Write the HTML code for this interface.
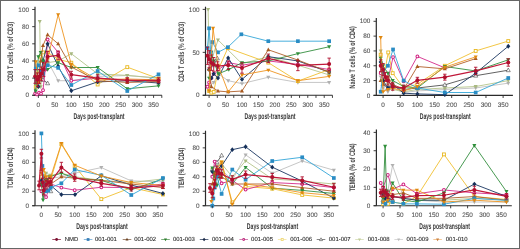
<!DOCTYPE html>
<html><head><meta charset="utf-8"><style>
html,body{margin:0;padding:0;background:#fff;}
#w{width:520px;height:249px;}
svg{display:block;font-family:"Liberation Sans",sans-serif;text-rendering:geometricPrecision;}
text{filter:grayscale(1);}
</style></head><body><div id="w">
<svg width="520" height="249" viewBox="0 0 520 249">
<rect x="0" y="0" width="520" height="249" fill="#fff"/>
<path d="M35 6.8V95.3" stroke="#2b2b2b" stroke-width="1.2" fill="none"/>
<path d="M32.2 95.3H161.9" stroke="#2b2b2b" stroke-width="1.1" fill="none"/>
<g><polyline points="38.40,82.43 43.01,78.14 47.61,60.98 58.15,80.71 71.31,80.71 97.64,76.42 127.26,75.57 158.52,78.14" fill="none" stroke="#c0c0c0" stroke-width="0.9" stroke-linejoin="round"/><path d="M38.40 84.65L40.44 80.95L36.36 80.95Z" fill="#b0b0b0"/><path d="M43.01 80.36L45.04 76.66L40.97 76.66Z" fill="#b0b0b0"/><path d="M47.61 63.20L49.65 59.50L45.58 59.50Z" fill="#b0b0b0"/><path d="M58.15 82.93L60.18 79.23L56.11 79.23Z" fill="#b0b0b0"/><path d="M71.31 82.93L73.34 79.23L69.28 79.23Z" fill="#b0b0b0"/><path d="M97.64 78.64L99.67 74.94L95.60 74.94Z" fill="#b0b0b0"/><path d="M127.26 77.79L129.29 74.09L125.22 74.09Z" fill="#b0b0b0"/><path d="M158.52 80.36L160.56 76.66L156.49 76.66Z" fill="#b0b0b0"/><polyline points="39.72,21.51 40.70,86.72 43.01,60.98 47.61,62.70 58.15,60.98 71.31,53.69 97.64,73.85 127.26,75.39 158.52,78.14" fill="none" stroke="#b4c48a" stroke-width="0.9" stroke-linejoin="round"/><path d="M39.72 23.73L41.75 20.03L37.68 20.03Z" fill="#a8b880"/><path d="M40.70 88.94L42.74 85.24L38.67 85.24Z" fill="#a8b880"/><path d="M43.01 63.20L45.04 59.50L40.97 59.50Z" fill="#a8b880"/><path d="M47.61 64.92L49.65 61.22L45.58 61.22Z" fill="#a8b880"/><path d="M58.15 63.20L60.18 59.50L56.11 59.50Z" fill="#a8b880"/><path d="M71.31 55.91L73.34 52.21L69.28 52.21Z" fill="#a8b880"/><path d="M97.64 76.07L99.67 72.37L95.60 72.37Z" fill="#a8b880"/><path d="M127.26 77.61L129.29 73.91L125.22 73.91Z" fill="#a8b880"/><path d="M158.52 80.36L160.56 76.66L156.49 76.66Z" fill="#a8b880"/><polyline points="38.40,78.14 43.01,79.86 47.61,83.29" fill="none" stroke="#505050" stroke-width="0.9" stroke-linejoin="round"/><path d="M38.40 75.92L40.44 79.62L36.36 79.62Z" fill="#fff" stroke="#444444" stroke-width="0.6"/><path d="M43.01 77.64L45.04 81.34L40.97 81.34Z" fill="#fff" stroke="#444444" stroke-width="0.6"/><path d="M47.61 81.07L49.65 84.77L45.58 84.77Z" fill="#fff" stroke="#444444" stroke-width="0.6"/><polyline points="35.77,86.72 38.40,73.85 40.70,56.69 43.01,52.40 47.61,52.40 58.15,59.26 71.31,62.70 97.64,84.49 127.26,67.16 158.52,78.65" fill="none" stroke="#f0c030" stroke-width="0.9" stroke-linejoin="round"/><rect x="34.32" y="85.27" width="2.90" height="2.90" fill="#fff" stroke="#e8b820" stroke-width="0.9"/><rect x="36.95" y="72.40" width="2.90" height="2.90" fill="#fff" stroke="#e8b820" stroke-width="0.9"/><rect x="39.25" y="55.24" width="2.90" height="2.90" fill="#fff" stroke="#e8b820" stroke-width="0.9"/><rect x="41.56" y="50.95" width="2.90" height="2.90" fill="#fff" stroke="#e8b820" stroke-width="0.9"/><rect x="46.16" y="50.95" width="2.90" height="2.90" fill="#fff" stroke="#e8b820" stroke-width="0.9"/><rect x="56.70" y="57.81" width="2.90" height="2.90" fill="#fff" stroke="#e8b820" stroke-width="0.9"/><rect x="69.86" y="61.25" width="2.90" height="2.90" fill="#fff" stroke="#e8b820" stroke-width="0.9"/><rect x="96.19" y="83.04" width="2.90" height="2.90" fill="#fff" stroke="#e8b820" stroke-width="0.9"/><rect x="125.81" y="65.71" width="2.90" height="2.90" fill="#fff" stroke="#e8b820" stroke-width="0.9"/><rect x="157.07" y="77.20" width="2.90" height="2.90" fill="#fff" stroke="#e8b820" stroke-width="0.9"/><polyline points="35.11,93.58 37.08,94.44 39.06,92.73 41.03,93.58 43.01,90.15 45.31,69.56 47.61,39.53 58.15,52.40 71.31,80.71 97.64,78.14 127.26,79.86 158.52,81.57" fill="none" stroke="#d42a8a" stroke-width="0.9" stroke-linejoin="round"/><circle cx="35.11" cy="93.58" r="1.40" fill="#fff" stroke="#d02080" stroke-width="1.05"/><circle cx="37.08" cy="94.44" r="1.40" fill="#fff" stroke="#d02080" stroke-width="1.05"/><circle cx="39.06" cy="92.73" r="1.40" fill="#fff" stroke="#d02080" stroke-width="1.05"/><circle cx="41.03" cy="93.58" r="1.40" fill="#fff" stroke="#d02080" stroke-width="1.05"/><circle cx="43.01" cy="90.15" r="1.40" fill="#fff" stroke="#d02080" stroke-width="1.05"/><circle cx="45.31" cy="69.56" r="1.40" fill="#fff" stroke="#d02080" stroke-width="1.05"/><circle cx="47.61" cy="39.53" r="1.40" fill="#fff" stroke="#d02080" stroke-width="1.05"/><circle cx="58.15" cy="52.40" r="1.40" fill="#fff" stroke="#d02080" stroke-width="1.05"/><circle cx="71.31" cy="80.71" r="1.40" fill="#fff" stroke="#d02080" stroke-width="1.05"/><circle cx="97.64" cy="78.14" r="1.40" fill="#fff" stroke="#d02080" stroke-width="1.05"/><circle cx="127.26" cy="79.86" r="1.40" fill="#fff" stroke="#d02080" stroke-width="1.05"/><circle cx="158.52" cy="81.57" r="1.40" fill="#fff" stroke="#d02080" stroke-width="1.05"/><polyline points="38.40,86.72 40.70,73.85 43.01,60.98 47.61,43.82 58.15,66.13 71.31,90.75 97.64,81.92 127.26,80.71 158.52,83.03" fill="none" stroke="#1a3560" stroke-width="0.9" stroke-linejoin="round"/><path d="M38.40 84.31L40.44 86.72L38.40 89.12L36.36 86.72Z" fill="#15305a"/><path d="M40.70 71.44L42.74 73.85L40.70 76.25L38.67 73.85Z" fill="#15305a"/><path d="M43.01 58.57L45.04 60.98L43.01 63.38L40.97 60.98Z" fill="#15305a"/><path d="M47.61 41.41L49.65 43.82L47.61 46.23L45.58 43.82Z" fill="#15305a"/><path d="M58.15 63.72L60.18 66.13L58.15 68.53L56.11 66.13Z" fill="#15305a"/><path d="M71.31 88.35L73.34 90.75L71.31 93.16L69.28 90.75Z" fill="#15305a"/><path d="M97.64 79.51L99.67 81.92L97.64 84.32L95.60 81.92Z" fill="#15305a"/><path d="M127.26 78.31L129.29 80.71L127.26 83.12L125.22 80.71Z" fill="#15305a"/><path d="M158.52 80.63L160.56 83.03L158.52 85.44L156.49 83.03Z" fill="#15305a"/><polyline points="35.77,91.01 38.40,56.69 40.70,52.40 43.01,60.98 47.61,69.56 58.15,62.70 71.31,67.50 97.64,67.50 127.26,88.78 158.52,85.86" fill="none" stroke="#338f3e" stroke-width="0.9" stroke-linejoin="round"/><path d="M35.77 93.23L37.80 89.53L33.73 89.53Z" fill="#2f8f3a"/><path d="M38.40 58.91L40.44 55.21L36.36 55.21Z" fill="#2f8f3a"/><path d="M40.70 54.62L42.74 50.92L38.67 50.92Z" fill="#2f8f3a"/><path d="M43.01 63.20L45.04 59.50L40.97 59.50Z" fill="#2f8f3a"/><path d="M47.61 71.78L49.65 68.08L45.58 68.08Z" fill="#2f8f3a"/><path d="M58.15 64.92L60.18 61.22L56.11 61.22Z" fill="#2f8f3a"/><path d="M71.31 69.72L73.34 66.02L69.28 66.02Z" fill="#2f8f3a"/><path d="M97.64 69.72L99.67 66.02L95.60 66.02Z" fill="#2f8f3a"/><path d="M127.26 91.00L129.29 87.30L125.22 87.30Z" fill="#2f8f3a"/><path d="M158.52 88.08L160.56 84.38L156.49 84.38Z" fill="#2f8f3a"/><polyline points="38.40,82.43 40.70,60.98 43.01,45.54 47.61,34.81 58.15,43.82 71.31,66.99 97.64,80.71 127.26,82.43 158.52,81.57" fill="none" stroke="#b0602a" stroke-width="0.9" stroke-linejoin="round"/><path d="M38.40 80.21L40.44 83.91L36.36 83.91Z" fill="#a85a20"/><path d="M40.70 58.76L42.74 62.46L38.67 62.46Z" fill="#a85a20"/><path d="M43.01 43.32L45.04 47.02L40.97 47.02Z" fill="#a85a20"/><path d="M47.61 32.59L49.65 36.29L45.58 36.29Z" fill="#a85a20"/><path d="M58.15 41.60L60.18 45.30L56.11 45.30Z" fill="#a85a20"/><path d="M71.31 64.77L73.34 68.47L69.28 68.47Z" fill="#a85a20"/><path d="M97.64 78.49L99.67 82.19L95.60 82.19Z" fill="#a85a20"/><path d="M127.26 80.21L129.29 83.91L125.22 83.91Z" fill="#a85a20"/><path d="M158.52 79.35L160.56 83.05L156.49 83.05Z" fill="#a85a20"/><polyline points="35.77,68.70 38.40,65.27 40.70,71.28 43.01,73.85 47.61,65.27 58.15,67.84 71.31,85.00 97.64,71.02 127.26,91.01 158.52,74.36" fill="none" stroke="#33a6d8" stroke-width="0.9" stroke-linejoin="round"/><rect x="33.92" y="66.85" width="3.70" height="3.70" fill="#2a8cc4"/><rect x="36.55" y="63.42" width="3.70" height="3.70" fill="#2a8cc4"/><rect x="38.85" y="69.43" width="3.70" height="3.70" fill="#2a8cc4"/><rect x="41.16" y="72.00" width="3.70" height="3.70" fill="#2a8cc4"/><rect x="45.76" y="63.42" width="3.70" height="3.70" fill="#2a8cc4"/><rect x="56.30" y="65.99" width="3.70" height="3.70" fill="#2a8cc4"/><rect x="69.46" y="83.15" width="3.70" height="3.70" fill="#2a8cc4"/><rect x="95.79" y="69.17" width="3.70" height="3.70" fill="#2a8cc4"/><rect x="125.41" y="89.16" width="3.70" height="3.70" fill="#2a8cc4"/><rect x="156.67" y="72.51" width="3.70" height="3.70" fill="#2a8cc4"/><polyline points="35.77,61.84 38.40,82.43 40.70,78.14 43.01,69.56 47.61,59.26 58.15,14.65 71.31,64.41 97.64,79.86 127.26,79.00 158.52,79.86" fill="none" stroke="#ee9420" stroke-width="0.9" stroke-linejoin="round"/><path d="M35.77 64.06L37.80 60.36L33.73 60.36Z" fill="#e08810"/><path d="M38.40 84.65L40.44 80.95L36.36 80.95Z" fill="#e08810"/><path d="M40.70 80.36L42.74 76.66L38.67 76.66Z" fill="#e08810"/><path d="M43.01 71.78L45.04 68.08L40.97 68.08Z" fill="#e08810"/><path d="M47.61 61.48L49.65 57.78L45.58 57.78Z" fill="#e08810"/><path d="M58.15 16.87L60.18 13.17L56.11 13.17Z" fill="#e08810"/><path d="M71.31 66.63L73.34 62.93L69.28 62.93Z" fill="#e08810"/><path d="M97.64 82.08L99.67 78.38L95.60 78.38Z" fill="#e08810"/><path d="M127.26 81.22L129.29 77.52L125.22 77.52Z" fill="#e08810"/><path d="M158.52 82.08L160.56 78.38L156.49 78.38Z" fill="#e08810"/><polyline points="35.11,76.42 37.41,79.86 39.39,76.42 41.36,73.85 43.67,69.56 47.61,56.69 58.15,55.40 71.31,74.71 97.64,78.14 127.26,80.28 158.52,80.28" fill="none" stroke="#c0183a" stroke-width="1.25" stroke-linejoin="round"/><path d="M35.11 69.56V83.29M33.41 69.56H36.81M33.41 83.29H36.81" stroke="#b0102e" stroke-width="0.9" fill="none"/><circle cx="35.11" cy="76.42" r="2.00" fill="#b0102e"/><path d="M37.41 72.99V86.72M35.71 72.99H39.11M35.71 86.72H39.11" stroke="#b0102e" stroke-width="0.9" fill="none"/><circle cx="37.41" cy="79.86" r="2.00" fill="#b0102e"/><path d="M39.39 69.56V83.29M37.69 69.56H41.09M37.69 83.29H41.09" stroke="#b0102e" stroke-width="0.9" fill="none"/><circle cx="39.39" cy="76.42" r="2.00" fill="#b0102e"/><path d="M41.36 66.99V80.71M39.66 66.99H43.06M39.66 80.71H43.06" stroke="#b0102e" stroke-width="0.9" fill="none"/><circle cx="41.36" cy="73.85" r="2.00" fill="#b0102e"/><path d="M43.67 62.70V76.42M41.97 62.70H45.37M41.97 76.42H45.37" stroke="#b0102e" stroke-width="0.9" fill="none"/><circle cx="43.67" cy="69.56" r="2.00" fill="#b0102e"/><path d="M47.61 51.54V61.84M45.91 51.54H49.31M45.91 61.84H49.31" stroke="#b0102e" stroke-width="0.9" fill="none"/><circle cx="47.61" cy="56.69" r="2.00" fill="#b0102e"/><path d="M58.15 51.11V59.69M56.45 51.11H59.85M56.45 59.69H59.85" stroke="#b0102e" stroke-width="0.9" fill="none"/><circle cx="58.15" cy="55.40" r="2.00" fill="#b0102e"/><path d="M71.31 71.28V78.14M69.61 71.28H73.01M69.61 78.14H73.01" stroke="#b0102e" stroke-width="0.9" fill="none"/><circle cx="71.31" cy="74.71" r="2.00" fill="#b0102e"/><path d="M97.64 74.71V81.57M95.94 74.71H99.34M95.94 81.57H99.34" stroke="#b0102e" stroke-width="0.9" fill="none"/><circle cx="97.64" cy="78.14" r="2.00" fill="#b0102e"/><path d="M127.26 77.71V82.86M125.56 77.71H128.96M125.56 82.86H128.96" stroke="#b0102e" stroke-width="0.9" fill="none"/><circle cx="127.26" cy="80.28" r="2.00" fill="#b0102e"/><path d="M158.52 77.71V82.86M156.82 77.71H160.22M156.82 82.86H160.22" stroke="#b0102e" stroke-width="0.9" fill="none"/><circle cx="158.52" cy="80.28" r="2.00" fill="#b0102e"/></g>
<path d="M32.2 95.30H35" stroke="#2b2b2b" stroke-width="0.9"/>
<text x="29" y="97.45" text-anchor="end" font-size="6.4" fill="#555555" stroke="#555555" stroke-width="0.1">0</text>
<path d="M32.2 78.14H35" stroke="#2b2b2b" stroke-width="0.9"/>
<text x="29" y="80.29" text-anchor="end" font-size="6.4" fill="#555555" stroke="#555555" stroke-width="0.1">20</text>
<path d="M32.2 60.98H35" stroke="#2b2b2b" stroke-width="0.9"/>
<text x="29" y="63.13" text-anchor="end" font-size="6.4" fill="#555555" stroke="#555555" stroke-width="0.1">40</text>
<path d="M32.2 43.82H35" stroke="#2b2b2b" stroke-width="0.9"/>
<text x="29" y="45.97" text-anchor="end" font-size="6.4" fill="#555555" stroke="#555555" stroke-width="0.1">60</text>
<path d="M32.2 26.66H35" stroke="#2b2b2b" stroke-width="0.9"/>
<text x="29" y="28.81" text-anchor="end" font-size="6.4" fill="#555555" stroke="#555555" stroke-width="0.1">80</text>
<path d="M32.2 9.50H35" stroke="#2b2b2b" stroke-width="0.9"/>
<text x="29" y="11.65" text-anchor="end" font-size="6.4" fill="#555555" stroke="#555555" stroke-width="0.1">100</text>
<path d="M38.40 95.3V97.89999999999999" stroke="#2b2b2b" stroke-width="0.9"/>
<text x="38.40" y="106.95" text-anchor="middle" font-size="6.4" fill="#555555" stroke="#555555" stroke-width="0.1">0</text>
<path d="M46.63 95.3V97.89999999999999" stroke="#2b2b2b" stroke-width="0.9"/>
<path d="M54.86 95.3V97.89999999999999" stroke="#2b2b2b" stroke-width="0.9"/>
<text x="54.86" y="106.95" text-anchor="middle" font-size="6.4" fill="#555555" stroke="#555555" stroke-width="0.1">50</text>
<path d="M63.08 95.3V97.89999999999999" stroke="#2b2b2b" stroke-width="0.9"/>
<path d="M71.31 95.3V97.89999999999999" stroke="#2b2b2b" stroke-width="0.9"/>
<text x="71.31" y="106.95" text-anchor="middle" font-size="6.4" fill="#555555" stroke="#555555" stroke-width="0.1">100</text>
<path d="M79.54 95.3V97.89999999999999" stroke="#2b2b2b" stroke-width="0.9"/>
<path d="M87.77 95.3V97.89999999999999" stroke="#2b2b2b" stroke-width="0.9"/>
<text x="87.77" y="106.95" text-anchor="middle" font-size="6.4" fill="#555555" stroke="#555555" stroke-width="0.1">150</text>
<path d="M95.99 95.3V97.89999999999999" stroke="#2b2b2b" stroke-width="0.9"/>
<path d="M104.22 95.3V97.89999999999999" stroke="#2b2b2b" stroke-width="0.9"/>
<text x="104.22" y="106.95" text-anchor="middle" font-size="6.4" fill="#555555" stroke="#555555" stroke-width="0.1">200</text>
<path d="M112.45 95.3V97.89999999999999" stroke="#2b2b2b" stroke-width="0.9"/>
<path d="M120.68 95.3V97.89999999999999" stroke="#2b2b2b" stroke-width="0.9"/>
<text x="120.68" y="106.95" text-anchor="middle" font-size="6.4" fill="#555555" stroke="#555555" stroke-width="0.1">250</text>
<path d="M128.90 95.3V97.89999999999999" stroke="#2b2b2b" stroke-width="0.9"/>
<path d="M137.13 95.3V97.89999999999999" stroke="#2b2b2b" stroke-width="0.9"/>
<text x="137.13" y="106.95" text-anchor="middle" font-size="6.4" fill="#555555" stroke="#555555" stroke-width="0.1">300</text>
<path d="M145.36 95.3V97.89999999999999" stroke="#2b2b2b" stroke-width="0.9"/>
<path d="M153.59 95.3V97.89999999999999" stroke="#2b2b2b" stroke-width="0.9"/>
<text x="153.59" y="106.95" text-anchor="middle" font-size="6.4" fill="#555555" stroke="#555555" stroke-width="0.1">350</text>
<path d="M161.81 95.3V97.89999999999999" stroke="#2b2b2b" stroke-width="0.9"/>
<text x="99.0" y="118.6" text-anchor="middle" font-size="8.3" font-weight="bold" fill="#383838" textLength="51" lengthAdjust="spacingAndGlyphs">Days post-transplant</text>
<text transform="translate(13.45,51.8) rotate(-90)" x="0" y="0" text-anchor="middle" font-size="8" font-weight="bold" fill="#454545" textLength="59.8" lengthAdjust="spacingAndGlyphs">CD8 T cells (% of CD3)</text>
<path d="M205.5 6.7V95.3" stroke="#2b2b2b" stroke-width="1.2" fill="none"/>
<path d="M202.7 95.3H332.5" stroke="#2b2b2b" stroke-width="1.1" fill="none"/>
<g><polyline points="209.10,86.71 213.70,82.41 218.31,73.82 228.18,80.70 241.99,83.62 268.30,77.26 297.90,82.41 329.15,82.41" fill="none" stroke="#c0c0c0" stroke-width="0.9" stroke-linejoin="round"/><path d="M209.10 88.93L211.13 85.23L207.06 85.23Z" fill="#b0b0b0"/><path d="M213.70 84.63L215.74 80.93L211.67 80.93Z" fill="#b0b0b0"/><path d="M218.31 76.04L220.34 72.34L216.27 72.34Z" fill="#b0b0b0"/><path d="M228.18 82.92L230.21 79.22L226.14 79.22Z" fill="#b0b0b0"/><path d="M241.99 85.84L244.03 82.14L239.96 82.14Z" fill="#b0b0b0"/><path d="M268.30 79.48L270.34 75.78L266.27 75.78Z" fill="#b0b0b0"/><path d="M297.90 84.63L299.94 80.93L295.87 80.93Z" fill="#b0b0b0"/><path d="M329.15 84.63L331.18 80.93L327.11 80.93Z" fill="#b0b0b0"/><polyline points="208.11,9.40 209.10,56.64 211.40,60.94 217.98,39.89 241.99,63.77 268.30,56.64 297.90,65.23 329.15,74.94" fill="none" stroke="#b4c48a" stroke-width="0.9" stroke-linejoin="round"/><path d="M208.11 11.62L210.15 7.92L206.08 7.92Z" fill="#a8b880"/><path d="M209.10 58.86L211.13 55.16L207.06 55.16Z" fill="#a8b880"/><path d="M211.40 63.16L213.44 59.46L209.37 59.46Z" fill="#a8b880"/><path d="M217.98 42.11L220.02 38.41L215.95 38.41Z" fill="#a8b880"/><path d="M241.99 65.99L244.03 62.29L239.96 62.29Z" fill="#a8b880"/><path d="M268.30 58.86L270.34 55.16L266.27 55.16Z" fill="#a8b880"/><path d="M297.90 67.45L299.94 63.76L295.87 63.76Z" fill="#a8b880"/><path d="M329.15 77.16L331.18 73.46L327.11 73.46Z" fill="#a8b880"/><polyline points="209.10,60.94 213.70,65.23 217.32,58.36" fill="none" stroke="#505050" stroke-width="0.9" stroke-linejoin="round"/><path d="M209.10 58.72L211.13 62.42L207.06 62.42Z" fill="#fff" stroke="#444444" stroke-width="0.6"/><path d="M213.70 63.02L215.74 66.72L211.67 66.72Z" fill="#fff" stroke="#444444" stroke-width="0.6"/><path d="M217.32 56.14L219.36 59.84L215.29 59.84Z" fill="#fff" stroke="#444444" stroke-width="0.6"/><polyline points="209.10,91.00 211.40,92.72 213.70,91.86 218.31,69.53 227.85,48.05 268.30,62.66 297.90,81.13 329.15,69.53" fill="none" stroke="#f0c030" stroke-width="0.9" stroke-linejoin="round"/><rect x="207.65" y="89.56" width="2.90" height="2.90" fill="#fff" stroke="#e8b820" stroke-width="0.9"/><rect x="209.95" y="91.27" width="2.90" height="2.90" fill="#fff" stroke="#e8b820" stroke-width="0.9"/><rect x="212.25" y="90.41" width="2.90" height="2.90" fill="#fff" stroke="#e8b820" stroke-width="0.9"/><rect x="216.86" y="68.08" width="2.90" height="2.90" fill="#fff" stroke="#e8b820" stroke-width="0.9"/><rect x="226.40" y="46.60" width="2.90" height="2.90" fill="#fff" stroke="#e8b820" stroke-width="0.9"/><rect x="266.85" y="61.21" width="2.90" height="2.90" fill="#fff" stroke="#e8b820" stroke-width="0.9"/><rect x="296.45" y="79.68" width="2.90" height="2.90" fill="#fff" stroke="#e8b820" stroke-width="0.9"/><rect x="327.70" y="68.08" width="2.90" height="2.90" fill="#fff" stroke="#e8b820" stroke-width="0.9"/><polyline points="207.46,86.71 209.10,82.41 211.40,78.12 213.70,73.82 218.31,69.53 228.83,62.66 241.99,65.23 268.30,60.94 297.90,64.38 329.15,69.53" fill="none" stroke="#d42a8a" stroke-width="0.9" stroke-linejoin="round"/><circle cx="207.46" cy="86.71" r="1.40" fill="#fff" stroke="#d02080" stroke-width="1.05"/><circle cx="209.10" cy="82.41" r="1.40" fill="#fff" stroke="#d02080" stroke-width="1.05"/><circle cx="211.40" cy="78.12" r="1.40" fill="#fff" stroke="#d02080" stroke-width="1.05"/><circle cx="213.70" cy="73.82" r="1.40" fill="#fff" stroke="#d02080" stroke-width="1.05"/><circle cx="218.31" cy="69.53" r="1.40" fill="#fff" stroke="#d02080" stroke-width="1.05"/><circle cx="228.83" cy="62.66" r="1.40" fill="#fff" stroke="#d02080" stroke-width="1.05"/><circle cx="241.99" cy="65.23" r="1.40" fill="#fff" stroke="#d02080" stroke-width="1.05"/><circle cx="268.30" cy="60.94" r="1.40" fill="#fff" stroke="#d02080" stroke-width="1.05"/><circle cx="297.90" cy="64.38" r="1.40" fill="#fff" stroke="#d02080" stroke-width="1.05"/><circle cx="329.15" cy="69.53" r="1.40" fill="#fff" stroke="#d02080" stroke-width="1.05"/><polyline points="209.10,69.53 211.40,78.12 213.70,73.82 217.98,78.12 228.18,57.93 241.99,79.41 268.30,56.64 297.90,60.94 329.15,72.11" fill="none" stroke="#1a3560" stroke-width="0.9" stroke-linejoin="round"/><path d="M209.10 67.12L211.13 69.53L209.10 71.94L207.06 69.53Z" fill="#15305a"/><path d="M211.40 75.72L213.44 78.12L211.40 80.53L209.37 78.12Z" fill="#15305a"/><path d="M213.70 71.42L215.74 73.82L213.70 76.23L211.67 73.82Z" fill="#15305a"/><path d="M217.98 75.72L220.02 78.12L217.98 80.53L215.95 78.12Z" fill="#15305a"/><path d="M228.18 55.53L230.21 57.93L228.18 60.34L226.14 57.93Z" fill="#15305a"/><path d="M241.99 77.00L244.03 79.41L241.99 81.81L239.96 79.41Z" fill="#15305a"/><path d="M268.30 54.24L270.34 56.64L268.30 59.05L266.27 56.64Z" fill="#15305a"/><path d="M297.90 58.53L299.94 60.94L297.90 63.34L295.87 60.94Z" fill="#15305a"/><path d="M329.15 69.70L331.18 72.11L329.15 74.51L327.11 72.11Z" fill="#15305a"/><polyline points="209.10,78.12 211.40,52.35 213.70,60.94 218.31,73.82 228.83,69.53 241.99,62.66 268.30,60.94 297.90,53.64 329.15,46.77" fill="none" stroke="#338f3e" stroke-width="0.9" stroke-linejoin="round"/><path d="M209.10 80.34L211.13 76.64L207.06 76.64Z" fill="#2f8f3a"/><path d="M211.40 54.57L213.44 50.87L209.37 50.87Z" fill="#2f8f3a"/><path d="M213.70 63.16L215.74 59.46L211.67 59.46Z" fill="#2f8f3a"/><path d="M218.31 76.04L220.34 72.34L216.27 72.34Z" fill="#2f8f3a"/><path d="M228.83 71.75L230.87 68.05L226.80 68.05Z" fill="#2f8f3a"/><path d="M241.99 64.88L244.03 61.18L239.96 61.18Z" fill="#2f8f3a"/><path d="M268.30 63.16L270.34 59.46L266.27 59.46Z" fill="#2f8f3a"/><path d="M297.90 55.86L299.94 52.16L295.87 52.16Z" fill="#2f8f3a"/><path d="M329.15 48.99L331.18 45.29L327.11 45.29Z" fill="#2f8f3a"/><polyline points="209.10,69.53 211.40,86.71 217.98,91.00 228.18,91.86 241.99,91.00 268.30,49.77 297.90,60.08 329.15,72.11" fill="none" stroke="#b0602a" stroke-width="0.9" stroke-linejoin="round"/><path d="M209.10 67.31L211.13 71.01L207.06 71.01Z" fill="#a85a20"/><path d="M211.40 84.49L213.44 88.19L209.37 88.19Z" fill="#a85a20"/><path d="M217.98 88.78L220.02 92.48L215.95 92.48Z" fill="#a85a20"/><path d="M228.18 89.64L230.21 93.34L226.14 93.34Z" fill="#a85a20"/><path d="M241.99 88.78L244.03 92.48L239.96 92.48Z" fill="#a85a20"/><path d="M268.30 47.55L270.34 51.25L266.27 51.25Z" fill="#a85a20"/><path d="M297.90 57.86L299.94 61.56L295.87 61.56Z" fill="#a85a20"/><path d="M329.15 69.89L331.18 73.59L327.11 73.59Z" fill="#a85a20"/><polyline points="207.46,48.05 209.10,28.30 210.74,52.35 212.39,42.04 217.98,52.35 227.85,47.20 241.33,34.31 268.30,41.18 297.90,41.18 329.15,41.18" fill="none" stroke="#33a6d8" stroke-width="0.9" stroke-linejoin="round"/><rect x="205.61" y="46.20" width="3.70" height="3.70" fill="#2a8cc4"/><rect x="207.25" y="26.45" width="3.70" height="3.70" fill="#2a8cc4"/><rect x="208.89" y="50.50" width="3.70" height="3.70" fill="#2a8cc4"/><rect x="210.54" y="40.19" width="3.70" height="3.70" fill="#2a8cc4"/><rect x="216.13" y="50.50" width="3.70" height="3.70" fill="#2a8cc4"/><rect x="226.00" y="45.35" width="3.70" height="3.70" fill="#2a8cc4"/><rect x="239.48" y="32.46" width="3.70" height="3.70" fill="#2a8cc4"/><rect x="266.45" y="39.33" width="3.70" height="3.70" fill="#2a8cc4"/><rect x="296.05" y="39.33" width="3.70" height="3.70" fill="#2a8cc4"/><rect x="327.30" y="39.33" width="3.70" height="3.70" fill="#2a8cc4"/><polyline points="209.10,91.00 213.05,28.30 217.98,65.23 228.18,91.86 241.99,74.94 268.30,70.13 297.90,80.70 329.15,76.40" fill="none" stroke="#ee9420" stroke-width="0.9" stroke-linejoin="round"/><path d="M209.10 93.22L211.13 89.52L207.06 89.52Z" fill="#e08810"/><path d="M213.05 30.52L215.08 26.82L211.01 26.82Z" fill="#e08810"/><path d="M217.98 67.45L220.02 63.76L215.95 63.76Z" fill="#e08810"/><path d="M228.18 94.08L230.21 90.38L226.14 90.38Z" fill="#e08810"/><path d="M241.99 77.16L244.03 73.46L239.96 73.46Z" fill="#e08810"/><path d="M268.30 72.35L270.34 68.65L266.27 68.65Z" fill="#e08810"/><path d="M297.90 82.92L299.94 79.22L295.87 79.22Z" fill="#e08810"/><path d="M329.15 78.62L331.18 74.92L327.11 74.92Z" fill="#e08810"/><polyline points="207.46,55.79 209.10,59.22 211.40,62.66 213.70,64.38 217.65,66.09 228.18,65.23 241.99,67.98 268.30,58.36 297.90,65.49 329.15,64.12" fill="none" stroke="#c0183a" stroke-width="1.25" stroke-linejoin="round"/><path d="M207.46 47.20V64.38M205.76 47.20H209.16M205.76 64.38H209.16" stroke="#b0102e" stroke-width="0.9" fill="none"/><circle cx="207.46" cy="55.79" r="2.00" fill="#b0102e"/><path d="M209.10 50.63V67.81M207.40 50.63H210.80M207.40 67.81H210.80" stroke="#b0102e" stroke-width="0.9" fill="none"/><circle cx="209.10" cy="59.22" r="2.00" fill="#b0102e"/><path d="M211.40 54.93V70.39M209.70 54.93H213.10M209.70 70.39H213.10" stroke="#b0102e" stroke-width="0.9" fill="none"/><circle cx="211.40" cy="62.66" r="2.00" fill="#b0102e"/><path d="M213.70 57.50V71.25M212.00 57.50H215.40M212.00 71.25H215.40" stroke="#b0102e" stroke-width="0.9" fill="none"/><circle cx="213.70" cy="64.38" r="2.00" fill="#b0102e"/><path d="M217.65 61.80V70.39M215.95 61.80H219.35M215.95 70.39H219.35" stroke="#b0102e" stroke-width="0.9" fill="none"/><circle cx="217.65" cy="66.09" r="2.00" fill="#b0102e"/><path d="M228.18 60.94V69.53M226.48 60.94H229.88M226.48 69.53H229.88" stroke="#b0102e" stroke-width="0.9" fill="none"/><circle cx="228.18" cy="65.23" r="2.00" fill="#b0102e"/><path d="M241.99 62.83V73.14M240.29 62.83H243.69M240.29 73.14H243.69" stroke="#b0102e" stroke-width="0.9" fill="none"/><circle cx="241.99" cy="67.98" r="2.00" fill="#b0102e"/><path d="M268.30 54.07V62.66M266.60 54.07H270.00M266.60 62.66H270.00" stroke="#b0102e" stroke-width="0.9" fill="none"/><circle cx="268.30" cy="58.36" r="2.00" fill="#b0102e"/><path d="M297.90 60.34V70.65M296.20 60.34H299.60M296.20 70.65H299.60" stroke="#b0102e" stroke-width="0.9" fill="none"/><circle cx="297.90" cy="65.49" r="2.00" fill="#b0102e"/><path d="M329.15 58.11V70.13M327.45 58.11H330.85M327.45 70.13H330.85" stroke="#b0102e" stroke-width="0.9" fill="none"/><circle cx="329.15" cy="64.12" r="2.00" fill="#b0102e"/></g>
<path d="M202.7 95.30H205.5" stroke="#2b2b2b" stroke-width="0.9"/>
<text x="199.5" y="97.45" text-anchor="end" font-size="6.4" fill="#555555" stroke="#555555" stroke-width="0.1">0</text>
<path d="M202.7 52.35H205.5" stroke="#2b2b2b" stroke-width="0.9"/>
<text x="199.5" y="54.50" text-anchor="end" font-size="6.4" fill="#555555" stroke="#555555" stroke-width="0.1">50</text>
<path d="M202.7 9.40H205.5" stroke="#2b2b2b" stroke-width="0.9"/>
<text x="199.5" y="11.55" text-anchor="end" font-size="6.4" fill="#555555" stroke="#555555" stroke-width="0.1">100</text>
<path d="M209.10 95.3V97.89999999999999" stroke="#2b2b2b" stroke-width="0.9"/>
<text x="209.10" y="106.95" text-anchor="middle" font-size="6.4" fill="#555555" stroke="#555555" stroke-width="0.1">0</text>
<path d="M217.32 95.3V97.89999999999999" stroke="#2b2b2b" stroke-width="0.9"/>
<path d="M225.54 95.3V97.89999999999999" stroke="#2b2b2b" stroke-width="0.9"/>
<text x="225.54" y="106.95" text-anchor="middle" font-size="6.4" fill="#555555" stroke="#555555" stroke-width="0.1">50</text>
<path d="M233.77 95.3V97.89999999999999" stroke="#2b2b2b" stroke-width="0.9"/>
<path d="M241.99 95.3V97.89999999999999" stroke="#2b2b2b" stroke-width="0.9"/>
<text x="241.99" y="106.95" text-anchor="middle" font-size="6.4" fill="#555555" stroke="#555555" stroke-width="0.1">100</text>
<path d="M250.21 95.3V97.89999999999999" stroke="#2b2b2b" stroke-width="0.9"/>
<path d="M258.44 95.3V97.89999999999999" stroke="#2b2b2b" stroke-width="0.9"/>
<text x="258.44" y="106.95" text-anchor="middle" font-size="6.4" fill="#555555" stroke="#555555" stroke-width="0.1">150</text>
<path d="M266.66 95.3V97.89999999999999" stroke="#2b2b2b" stroke-width="0.9"/>
<path d="M274.88 95.3V97.89999999999999" stroke="#2b2b2b" stroke-width="0.9"/>
<text x="274.88" y="106.95" text-anchor="middle" font-size="6.4" fill="#555555" stroke="#555555" stroke-width="0.1">200</text>
<path d="M283.10 95.3V97.89999999999999" stroke="#2b2b2b" stroke-width="0.9"/>
<path d="M291.32 95.3V97.89999999999999" stroke="#2b2b2b" stroke-width="0.9"/>
<text x="291.32" y="106.95" text-anchor="middle" font-size="6.4" fill="#555555" stroke="#555555" stroke-width="0.1">250</text>
<path d="M299.55 95.3V97.89999999999999" stroke="#2b2b2b" stroke-width="0.9"/>
<path d="M307.77 95.3V97.89999999999999" stroke="#2b2b2b" stroke-width="0.9"/>
<text x="307.77" y="106.95" text-anchor="middle" font-size="6.4" fill="#555555" stroke="#555555" stroke-width="0.1">300</text>
<path d="M315.99 95.3V97.89999999999999" stroke="#2b2b2b" stroke-width="0.9"/>
<path d="M324.22 95.3V97.89999999999999" stroke="#2b2b2b" stroke-width="0.9"/>
<text x="324.22" y="106.95" text-anchor="middle" font-size="6.4" fill="#555555" stroke="#555555" stroke-width="0.1">350</text>
<path d="M332.44 95.3V97.89999999999999" stroke="#2b2b2b" stroke-width="0.9"/>
<text x="270.0" y="118.6" text-anchor="middle" font-size="8.3" font-weight="bold" fill="#383838" textLength="51" lengthAdjust="spacingAndGlyphs">Days post-transplant</text>
<text transform="translate(184.05,51.8) rotate(-90)" x="0" y="0" text-anchor="middle" font-size="8" font-weight="bold" fill="#454545" textLength="59.8" lengthAdjust="spacingAndGlyphs">CD4 T cells (% of CD3)</text>
<path d="M376.3 18.1V95.4" stroke="#2b2b2b" stroke-width="1.2" fill="none"/>
<path d="M373.5 95.4H512.9" stroke="#2b2b2b" stroke-width="1.1" fill="none"/>
<g><polyline points="380.70,76.88 383.10,87.99 387.90,91.70 392.70,87.99 403.67,92.44 417.39,90.95 444.82,89.47 475.68,87.99 508.26,83.17" fill="none" stroke="#c0c0c0" stroke-width="0.9" stroke-linejoin="round"/><path d="M380.70 79.09L382.73 75.39L378.66 75.39Z" fill="#b0b0b0"/><path d="M383.10 90.21L385.14 86.51L381.06 86.51Z" fill="#b0b0b0"/><path d="M387.90 93.92L389.94 90.22L385.87 90.22Z" fill="#b0b0b0"/><path d="M392.70 90.21L394.74 86.51L390.67 86.51Z" fill="#b0b0b0"/><path d="M403.67 94.66L405.71 90.96L401.64 90.96Z" fill="#b0b0b0"/><path d="M417.39 93.17L419.43 89.47L415.36 89.47Z" fill="#b0b0b0"/><path d="M444.82 91.69L446.86 87.99L442.79 87.99Z" fill="#b0b0b0"/><path d="M475.68 90.21L477.72 86.51L473.65 86.51Z" fill="#b0b0b0"/><path d="M508.26 85.39L510.29 81.69L506.22 81.69Z" fill="#b0b0b0"/><polyline points="380.70,50.94 383.10,73.17 387.90,84.29 392.70,89.47 403.67,91.70 417.39,89.47 444.82,87.99 475.68,86.51 508.26,80.58" fill="none" stroke="#b4c48a" stroke-width="0.9" stroke-linejoin="round"/><path d="M380.70 53.16L382.73 49.46L378.66 49.46Z" fill="#a8b880"/><path d="M383.10 75.39L385.14 71.69L381.06 71.69Z" fill="#a8b880"/><path d="M387.90 86.51L389.94 82.81L385.87 82.81Z" fill="#a8b880"/><path d="M392.70 91.69L394.74 87.99L390.67 87.99Z" fill="#a8b880"/><path d="M403.67 93.92L405.71 90.22L401.64 90.22Z" fill="#a8b880"/><path d="M417.39 91.69L419.43 87.99L415.36 87.99Z" fill="#a8b880"/><path d="M444.82 90.21L446.86 86.51L442.79 86.51Z" fill="#a8b880"/><path d="M475.68 88.73L477.72 85.03L473.65 85.03Z" fill="#a8b880"/><path d="M508.26 82.80L510.29 79.10L506.22 79.10Z" fill="#a8b880"/><polyline points="383.10,84.29 387.90,87.99 392.70,86.51 403.67,89.47 417.39,87.99 444.82,84.88 475.68,75.69 508.26,70.21" fill="none" stroke="#505050" stroke-width="0.9" stroke-linejoin="round"/><path d="M383.10 82.07L385.14 85.77L381.06 85.77Z" fill="#fff" stroke="#444444" stroke-width="0.6"/><path d="M387.90 85.77L389.94 89.47L385.87 89.47Z" fill="#fff" stroke="#444444" stroke-width="0.6"/><path d="M392.70 84.29L394.74 87.99L390.67 87.99Z" fill="#fff" stroke="#444444" stroke-width="0.6"/><path d="M403.67 87.25L405.71 90.95L401.64 90.95Z" fill="#fff" stroke="#444444" stroke-width="0.6"/><path d="M417.39 85.77L419.43 89.47L415.36 89.47Z" fill="#fff" stroke="#444444" stroke-width="0.6"/><path d="M444.82 82.66L446.86 86.36L442.79 86.36Z" fill="#fff" stroke="#444444" stroke-width="0.6"/><path d="M475.68 73.47L477.72 77.17L473.65 77.17Z" fill="#fff" stroke="#444444" stroke-width="0.6"/><path d="M508.26 67.99L510.29 71.69L506.22 71.69Z" fill="#fff" stroke="#444444" stroke-width="0.6"/><polyline points="380.70,54.65 383.10,80.58 388.24,52.42 392.70,73.17 403.67,87.99 417.39,84.29 444.82,65.76 475.68,50.94 508.26,41.08" fill="none" stroke="#f0c030" stroke-width="0.9" stroke-linejoin="round"/><rect x="379.25" y="53.20" width="2.90" height="2.90" fill="#fff" stroke="#e8b820" stroke-width="0.9"/><rect x="381.65" y="79.13" width="2.90" height="2.90" fill="#fff" stroke="#e8b820" stroke-width="0.9"/><rect x="386.79" y="50.97" width="2.90" height="2.90" fill="#fff" stroke="#e8b820" stroke-width="0.9"/><rect x="391.25" y="71.72" width="2.90" height="2.90" fill="#fff" stroke="#e8b820" stroke-width="0.9"/><rect x="402.22" y="86.54" width="2.90" height="2.90" fill="#fff" stroke="#e8b820" stroke-width="0.9"/><rect x="415.94" y="82.84" width="2.90" height="2.90" fill="#fff" stroke="#e8b820" stroke-width="0.9"/><rect x="443.37" y="64.31" width="2.90" height="2.90" fill="#fff" stroke="#e8b820" stroke-width="0.9"/><rect x="474.23" y="49.49" width="2.90" height="2.90" fill="#fff" stroke="#e8b820" stroke-width="0.9"/><rect x="506.81" y="39.63" width="2.90" height="2.90" fill="#fff" stroke="#e8b820" stroke-width="0.9"/><polyline points="380.70,73.17 383.10,76.88 387.90,80.58 393.04,57.09 403.67,81.32 417.39,56.42 444.82,67.83" fill="none" stroke="#d42a8a" stroke-width="0.9" stroke-linejoin="round"/><circle cx="380.70" cy="73.17" r="1.40" fill="#fff" stroke="#d02080" stroke-width="1.05"/><circle cx="383.10" cy="76.88" r="1.40" fill="#fff" stroke="#d02080" stroke-width="1.05"/><circle cx="387.90" cy="80.58" r="1.40" fill="#fff" stroke="#d02080" stroke-width="1.05"/><circle cx="393.04" cy="57.09" r="1.40" fill="#fff" stroke="#d02080" stroke-width="1.05"/><circle cx="403.67" cy="81.32" r="1.40" fill="#fff" stroke="#d02080" stroke-width="1.05"/><circle cx="417.39" cy="56.42" r="1.40" fill="#fff" stroke="#d02080" stroke-width="1.05"/><circle cx="444.82" cy="67.83" r="1.40" fill="#fff" stroke="#d02080" stroke-width="1.05"/><polyline points="380.70,62.06 383.10,80.58 387.90,87.99 392.70,84.29 403.67,93.18 417.39,93.92 444.82,94.66 475.68,73.17 508.26,46.27" fill="none" stroke="#1a3560" stroke-width="0.9" stroke-linejoin="round"/><path d="M380.70 59.65L382.73 62.06L380.70 64.46L378.66 62.06Z" fill="#15305a"/><path d="M383.10 78.18L385.14 80.58L383.10 82.99L381.06 80.58Z" fill="#15305a"/><path d="M387.90 85.59L389.94 87.99L387.90 90.40L385.87 87.99Z" fill="#15305a"/><path d="M392.70 81.88L394.74 84.29L392.70 86.69L390.67 84.29Z" fill="#15305a"/><path d="M403.67 90.77L405.71 93.18L403.67 95.58L401.64 93.18Z" fill="#15305a"/><path d="M417.39 91.51L419.43 93.92L417.39 96.32L415.36 93.92Z" fill="#15305a"/><path d="M444.82 92.25L446.86 94.66L444.82 97.06L442.79 94.66Z" fill="#15305a"/><path d="M475.68 70.77L477.72 73.17L475.68 75.58L473.65 73.17Z" fill="#15305a"/><path d="M508.26 43.87L510.29 46.27L508.26 48.68L506.22 46.27Z" fill="#15305a"/><polyline points="380.70,58.35 383.10,65.76 387.90,73.17 392.70,80.58 403.67,86.51 417.39,87.99 444.82,66.50 475.68,70.95 508.26,59.83" fill="none" stroke="#338f3e" stroke-width="0.9" stroke-linejoin="round"/><path d="M380.70 60.57L382.73 56.87L378.66 56.87Z" fill="#2f8f3a"/><path d="M383.10 67.98L385.14 64.28L381.06 64.28Z" fill="#2f8f3a"/><path d="M387.90 75.39L389.94 71.69L385.87 71.69Z" fill="#2f8f3a"/><path d="M392.70 82.80L394.74 79.10L390.67 79.10Z" fill="#2f8f3a"/><path d="M403.67 88.73L405.71 85.03L401.64 85.03Z" fill="#2f8f3a"/><path d="M417.39 90.21L419.43 86.51L415.36 86.51Z" fill="#2f8f3a"/><path d="M444.82 68.72L446.86 65.02L442.79 65.02Z" fill="#2f8f3a"/><path d="M475.68 73.17L477.72 69.47L473.65 69.47Z" fill="#2f8f3a"/><path d="M508.26 62.05L510.29 58.35L506.22 58.35Z" fill="#2f8f3a"/><polyline points="380.70,80.58 383.10,84.29 387.90,76.88 392.70,84.29 403.67,89.47 417.39,66.50 444.82,68.87 475.68,58.57" fill="none" stroke="#b0602a" stroke-width="0.9" stroke-linejoin="round"/><path d="M380.70 78.36L382.73 82.06L378.66 82.06Z" fill="#a85a20"/><path d="M383.10 82.07L385.14 85.77L381.06 85.77Z" fill="#a85a20"/><path d="M387.90 74.66L389.94 78.36L385.87 78.36Z" fill="#a85a20"/><path d="M392.70 82.07L394.74 85.77L390.67 85.77Z" fill="#a85a20"/><path d="M403.67 87.25L405.71 90.95L401.64 90.95Z" fill="#a85a20"/><path d="M417.39 64.28L419.43 67.98L415.36 67.98Z" fill="#a85a20"/><path d="M444.82 66.65L446.86 70.35L442.79 70.35Z" fill="#a85a20"/><path d="M475.68 56.35L477.72 60.05L473.65 60.05Z" fill="#a85a20"/><polyline points="380.70,91.70 383.10,72.58 387.90,65.76 393.04,49.46 403.67,80.58 417.39,87.99 444.82,92.51 475.68,92.51 508.26,77.99" fill="none" stroke="#33a6d8" stroke-width="0.9" stroke-linejoin="round"/><rect x="378.85" y="89.85" width="3.70" height="3.70" fill="#2a8cc4"/><rect x="381.25" y="70.73" width="3.70" height="3.70" fill="#2a8cc4"/><rect x="386.05" y="63.91" width="3.70" height="3.70" fill="#2a8cc4"/><rect x="391.19" y="47.61" width="3.70" height="3.70" fill="#2a8cc4"/><rect x="401.82" y="78.73" width="3.70" height="3.70" fill="#2a8cc4"/><rect x="415.54" y="86.14" width="3.70" height="3.70" fill="#2a8cc4"/><rect x="442.97" y="90.66" width="3.70" height="3.70" fill="#2a8cc4"/><rect x="473.83" y="90.66" width="3.70" height="3.70" fill="#2a8cc4"/><rect x="506.41" y="76.14" width="3.70" height="3.70" fill="#2a8cc4"/><polyline points="380.70,37.60 381.39,65.76 383.10,91.70 387.90,89.47 392.70,87.99 403.67,90.95 417.39,86.51 444.82,67.24 475.68,56.87" fill="none" stroke="#ee9420" stroke-width="0.9" stroke-linejoin="round"/><path d="M380.70 39.82L382.73 36.12L378.66 36.12Z" fill="#e08810"/><path d="M381.39 67.98L383.42 64.28L379.35 64.28Z" fill="#e08810"/><path d="M383.10 93.92L385.14 90.22L381.06 90.22Z" fill="#e08810"/><path d="M387.90 91.69L389.94 87.99L385.87 87.99Z" fill="#e08810"/><path d="M392.70 90.21L394.74 86.51L390.67 86.51Z" fill="#e08810"/><path d="M403.67 93.17L405.71 89.47L401.64 89.47Z" fill="#e08810"/><path d="M417.39 88.73L419.43 85.03L415.36 85.03Z" fill="#e08810"/><path d="M444.82 69.46L446.86 65.76L442.79 65.76Z" fill="#e08810"/><path d="M475.68 59.09L477.72 55.39L473.65 55.39Z" fill="#e08810"/><polyline points="380.70,65.76 383.10,69.47 385.50,76.88 387.90,80.58 392.70,86.51 403.67,87.99 417.39,80.28 444.82,77.17 475.68,70.95 508.26,62.50" fill="none" stroke="#c0183a" stroke-width="1.25" stroke-linejoin="round"/><path d="M380.70 59.83V71.69M379.00 59.83H382.40M379.00 71.69H382.40" stroke="#b0102e" stroke-width="0.9" fill="none"/><circle cx="380.70" cy="65.76" r="2.00" fill="#b0102e"/><path d="M383.10 63.54V75.39M381.40 63.54H384.80M381.40 75.39H384.80" stroke="#b0102e" stroke-width="0.9" fill="none"/><circle cx="383.10" cy="69.47" r="2.00" fill="#b0102e"/><path d="M385.50 72.43V81.32M383.80 72.43H387.20M383.80 81.32H387.20" stroke="#b0102e" stroke-width="0.9" fill="none"/><circle cx="385.50" cy="76.88" r="2.00" fill="#b0102e"/><path d="M387.90 76.13V85.03M386.20 76.13H389.60M386.20 85.03H389.60" stroke="#b0102e" stroke-width="0.9" fill="none"/><circle cx="387.90" cy="80.58" r="2.00" fill="#b0102e"/><path d="M392.70 82.80V90.21M391.00 82.80H394.40M391.00 90.21H394.40" stroke="#b0102e" stroke-width="0.9" fill="none"/><circle cx="392.70" cy="86.51" r="2.00" fill="#b0102e"/><path d="M403.67 85.03V90.95M401.97 85.03H405.37M401.97 90.95H405.37" stroke="#b0102e" stroke-width="0.9" fill="none"/><circle cx="403.67" cy="87.99" r="2.00" fill="#b0102e"/><path d="M417.39 77.32V83.25M415.69 77.32H419.09M415.69 83.25H419.09" stroke="#b0102e" stroke-width="0.9" fill="none"/><circle cx="417.39" cy="80.28" r="2.00" fill="#b0102e"/><path d="M444.82 74.21V80.14M443.12 74.21H446.52M443.12 80.14H446.52" stroke="#b0102e" stroke-width="0.9" fill="none"/><circle cx="444.82" cy="77.17" r="2.00" fill="#b0102e"/><path d="M475.68 67.24V74.65M473.98 67.24H477.38M473.98 74.65H477.38" stroke="#b0102e" stroke-width="0.9" fill="none"/><circle cx="475.68" cy="70.95" r="2.00" fill="#b0102e"/><path d="M508.26 58.79V66.20M506.56 58.79H509.96M506.56 66.20H509.96" stroke="#b0102e" stroke-width="0.9" fill="none"/><circle cx="508.26" cy="62.50" r="2.00" fill="#b0102e"/></g>
<path d="M373.5 95.40H376.3" stroke="#2b2b2b" stroke-width="0.9"/>
<text x="370.3" y="97.55" text-anchor="end" font-size="6.4" fill="#555555" stroke="#555555" stroke-width="0.1">0</text>
<path d="M373.5 80.58H376.3" stroke="#2b2b2b" stroke-width="0.9"/>
<text x="370.3" y="82.73" text-anchor="end" font-size="6.4" fill="#555555" stroke="#555555" stroke-width="0.1">20</text>
<path d="M373.5 65.76H376.3" stroke="#2b2b2b" stroke-width="0.9"/>
<text x="370.3" y="67.91" text-anchor="end" font-size="6.4" fill="#555555" stroke="#555555" stroke-width="0.1">40</text>
<path d="M373.5 50.94H376.3" stroke="#2b2b2b" stroke-width="0.9"/>
<text x="370.3" y="53.09" text-anchor="end" font-size="6.4" fill="#555555" stroke="#555555" stroke-width="0.1">60</text>
<path d="M373.5 36.12H376.3" stroke="#2b2b2b" stroke-width="0.9"/>
<text x="370.3" y="38.27" text-anchor="end" font-size="6.4" fill="#555555" stroke="#555555" stroke-width="0.1">80</text>
<path d="M373.5 21.30H376.3" stroke="#2b2b2b" stroke-width="0.9"/>
<text x="370.3" y="23.45" text-anchor="end" font-size="6.4" fill="#555555" stroke="#555555" stroke-width="0.1">100</text>
<path d="M383.10 95.4V98.0" stroke="#2b2b2b" stroke-width="0.9"/>
<text x="383.10" y="106.95" text-anchor="middle" font-size="6.4" fill="#555555" stroke="#555555" stroke-width="0.1">0</text>
<path d="M400.25 95.4V98.0" stroke="#2b2b2b" stroke-width="0.9"/>
<text x="400.25" y="106.95" text-anchor="middle" font-size="6.4" fill="#555555" stroke="#555555" stroke-width="0.1">50</text>
<path d="M417.39 95.4V98.0" stroke="#2b2b2b" stroke-width="0.9"/>
<text x="417.39" y="106.95" text-anchor="middle" font-size="6.4" fill="#555555" stroke="#555555" stroke-width="0.1">100</text>
<path d="M434.54 95.4V98.0" stroke="#2b2b2b" stroke-width="0.9"/>
<text x="434.54" y="106.95" text-anchor="middle" font-size="6.4" fill="#555555" stroke="#555555" stroke-width="0.1">150</text>
<path d="M451.68 95.4V98.0" stroke="#2b2b2b" stroke-width="0.9"/>
<text x="451.68" y="106.95" text-anchor="middle" font-size="6.4" fill="#555555" stroke="#555555" stroke-width="0.1">200</text>
<path d="M468.83 95.4V98.0" stroke="#2b2b2b" stroke-width="0.9"/>
<text x="468.83" y="106.95" text-anchor="middle" font-size="6.4" fill="#555555" stroke="#555555" stroke-width="0.1">250</text>
<path d="M485.97 95.4V98.0" stroke="#2b2b2b" stroke-width="0.9"/>
<text x="485.97" y="106.95" text-anchor="middle" font-size="6.4" fill="#555555" stroke="#555555" stroke-width="0.1">300</text>
<path d="M503.12 95.4V98.0" stroke="#2b2b2b" stroke-width="0.9"/>
<text x="503.12" y="106.95" text-anchor="middle" font-size="6.4" fill="#555555" stroke="#555555" stroke-width="0.1">350</text>
<text x="445.2" y="118.6" text-anchor="middle" font-size="8.3" font-weight="bold" fill="#383838" textLength="51" lengthAdjust="spacingAndGlyphs">Days post-transplant</text>
<text transform="translate(354.75,57.4) rotate(-90)" x="0" y="0" text-anchor="middle" font-size="8" font-weight="bold" fill="#454545" textLength="62.2" lengthAdjust="spacingAndGlyphs">Naive T cells (% of CD4)</text>
<path d="M35 130.2V205.7" stroke="#2b2b2b" stroke-width="1.2" fill="none"/>
<path d="M32.2 205.7H167.3" stroke="#2b2b2b" stroke-width="1.1" fill="none"/>
<g><polyline points="41.40,184.01 46.06,180.39 50.72,178.23 61.37,176.78 74.69,173.16 101.32,167.60 131.28,180.90 162.91,181.84" fill="none" stroke="#c0c0c0" stroke-width="0.9" stroke-linejoin="round"/><path d="M41.40 186.23L43.44 182.53L39.36 182.53Z" fill="#b0b0b0"/><path d="M46.06 182.61L48.10 178.91L44.03 178.91Z" fill="#b0b0b0"/><path d="M50.72 180.45L52.76 176.75L48.69 176.75Z" fill="#b0b0b0"/><path d="M61.37 179.00L63.41 175.30L59.34 175.30Z" fill="#b0b0b0"/><path d="M74.69 175.38L76.72 171.69L72.66 171.69Z" fill="#b0b0b0"/><path d="M101.32 169.82L103.36 166.12L99.29 166.12Z" fill="#b0b0b0"/><path d="M131.28 183.12L133.32 179.42L129.25 179.42Z" fill="#b0b0b0"/><path d="M162.91 184.06L164.94 180.36L160.87 180.36Z" fill="#b0b0b0"/><polyline points="41.40,176.78 46.06,173.16 50.72,175.33 61.37,173.16 74.69,176.78 101.32,180.39 131.28,182.56 162.91,178.95" fill="none" stroke="#b4c48a" stroke-width="0.9" stroke-linejoin="round"/><path d="M41.40 179.00L43.44 175.30L39.36 175.30Z" fill="#a8b880"/><path d="M46.06 175.38L48.10 171.69L44.03 171.69Z" fill="#a8b880"/><path d="M50.72 177.55L52.76 173.85L48.69 173.85Z" fill="#a8b880"/><path d="M61.37 175.38L63.41 171.69L59.34 171.69Z" fill="#a8b880"/><path d="M74.69 179.00L76.72 175.30L72.66 175.30Z" fill="#a8b880"/><path d="M101.32 182.61L103.36 178.91L99.29 178.91Z" fill="#a8b880"/><path d="M131.28 184.78L133.32 181.08L129.25 181.08Z" fill="#a8b880"/><path d="M162.91 181.17L164.94 177.47L160.87 177.47Z" fill="#a8b880"/><polyline points="41.40,184.01 46.06,187.62 50.72,191.24" fill="none" stroke="#505050" stroke-width="0.9" stroke-linejoin="round"/><path d="M41.40 181.79L43.44 185.49L39.36 185.49Z" fill="#fff" stroke="#444444" stroke-width="0.6"/><path d="M46.06 185.41L48.10 189.10L44.03 189.10Z" fill="#fff" stroke="#444444" stroke-width="0.6"/><path d="M50.72 189.02L52.76 192.72L48.69 192.72Z" fill="#fff" stroke="#444444" stroke-width="0.6"/><polyline points="41.40,176.78 43.73,173.16 46.06,184.01 50.72,179.67 61.37,144.25 74.69,165.94 101.32,199.12 131.28,187.62 162.91,194.49" fill="none" stroke="#f0c030" stroke-width="0.9" stroke-linejoin="round"/><rect x="39.95" y="175.33" width="2.90" height="2.90" fill="#fff" stroke="#e8b820" stroke-width="0.9"/><rect x="42.28" y="171.72" width="2.90" height="2.90" fill="#fff" stroke="#e8b820" stroke-width="0.9"/><rect x="44.61" y="182.56" width="2.90" height="2.90" fill="#fff" stroke="#e8b820" stroke-width="0.9"/><rect x="49.27" y="178.22" width="2.90" height="2.90" fill="#fff" stroke="#e8b820" stroke-width="0.9"/><rect x="59.92" y="142.80" width="2.90" height="2.90" fill="#fff" stroke="#e8b820" stroke-width="0.9"/><rect x="73.24" y="164.49" width="2.90" height="2.90" fill="#fff" stroke="#e8b820" stroke-width="0.9"/><rect x="99.87" y="197.67" width="2.90" height="2.90" fill="#fff" stroke="#e8b820" stroke-width="0.9"/><rect x="129.83" y="186.18" width="2.90" height="2.90" fill="#fff" stroke="#e8b820" stroke-width="0.9"/><rect x="161.46" y="193.04" width="2.90" height="2.90" fill="#fff" stroke="#e8b820" stroke-width="0.9"/><polyline points="41.40,191.24 43.73,194.85 46.06,197.02 50.72,184.01 61.37,187.62 74.69,190.16 101.32,187.26 131.28,187.62 162.91,184.01" fill="none" stroke="#d42a8a" stroke-width="0.9" stroke-linejoin="round"/><circle cx="41.40" cy="191.24" r="1.40" fill="#fff" stroke="#d02080" stroke-width="1.05"/><circle cx="43.73" cy="194.85" r="1.40" fill="#fff" stroke="#d02080" stroke-width="1.05"/><circle cx="46.06" cy="197.02" r="1.40" fill="#fff" stroke="#d02080" stroke-width="1.05"/><circle cx="50.72" cy="184.01" r="1.40" fill="#fff" stroke="#d02080" stroke-width="1.05"/><circle cx="61.37" cy="187.62" r="1.40" fill="#fff" stroke="#d02080" stroke-width="1.05"/><circle cx="74.69" cy="190.16" r="1.40" fill="#fff" stroke="#d02080" stroke-width="1.05"/><circle cx="101.32" cy="187.26" r="1.40" fill="#fff" stroke="#d02080" stroke-width="1.05"/><circle cx="131.28" cy="187.62" r="1.40" fill="#fff" stroke="#d02080" stroke-width="1.05"/><circle cx="162.91" cy="184.01" r="1.40" fill="#fff" stroke="#d02080" stroke-width="1.05"/><polyline points="41.40,180.39 43.73,184.01 46.06,179.67 50.72,185.46 61.37,194.57 75.02,194.57 101.32,175.77 131.28,185.02 162.91,193.48" fill="none" stroke="#1a3560" stroke-width="0.9" stroke-linejoin="round"/><path d="M41.40 177.99L43.44 180.39L41.40 182.80L39.36 180.39Z" fill="#15305a"/><path d="M43.73 181.60L45.77 184.01L43.73 186.41L41.70 184.01Z" fill="#15305a"/><path d="M46.06 177.27L48.10 179.67L46.06 182.08L44.03 179.67Z" fill="#15305a"/><path d="M50.72 183.05L52.76 185.46L50.72 187.86L48.69 185.46Z" fill="#15305a"/><path d="M61.37 192.16L63.41 194.57L61.37 196.97L59.34 194.57Z" fill="#15305a"/><path d="M75.02 192.16L77.06 194.57L75.02 196.97L72.99 194.57Z" fill="#15305a"/><path d="M101.32 173.36L103.36 175.77L101.32 178.17L99.29 175.77Z" fill="#15305a"/><path d="M131.28 182.62L133.32 185.02L131.28 187.43L129.25 185.02Z" fill="#15305a"/><path d="M162.91 191.08L164.94 193.48L162.91 195.89L160.87 193.48Z" fill="#15305a"/><polyline points="41.40,184.01 43.06,199.92 46.06,180.39 49.39,176.78 61.37,173.16 74.69,178.23 101.32,180.39 131.28,189.79 162.91,178.95" fill="none" stroke="#338f3e" stroke-width="0.9" stroke-linejoin="round"/><path d="M41.40 186.23L43.44 182.53L39.36 182.53Z" fill="#2f8f3a"/><path d="M43.06 202.14L45.10 198.44L41.03 198.44Z" fill="#2f8f3a"/><path d="M46.06 182.61L48.10 178.91L44.03 178.91Z" fill="#2f8f3a"/><path d="M49.39 179.00L51.42 175.30L47.35 175.30Z" fill="#2f8f3a"/><path d="M61.37 175.38L63.41 171.69L59.34 171.69Z" fill="#2f8f3a"/><path d="M74.69 180.45L76.72 176.75L72.66 176.75Z" fill="#2f8f3a"/><path d="M101.32 182.61L103.36 178.91L99.29 178.91Z" fill="#2f8f3a"/><path d="M131.28 192.01L133.32 188.31L129.25 188.31Z" fill="#2f8f3a"/><path d="M162.91 181.17L164.94 177.47L160.87 177.47Z" fill="#2f8f3a"/><polyline points="41.40,169.55 43.73,176.78 46.06,180.39 50.72,184.01 61.37,176.78 74.69,178.23 101.32,180.39 131.28,184.01 162.91,187.62" fill="none" stroke="#b0602a" stroke-width="0.9" stroke-linejoin="round"/><path d="M41.40 167.33L43.44 171.03L39.36 171.03Z" fill="#a85a20"/><path d="M43.73 174.56L45.77 178.26L41.70 178.26Z" fill="#a85a20"/><path d="M46.06 178.17L48.10 181.87L44.03 181.87Z" fill="#a85a20"/><path d="M50.72 181.79L52.76 185.49L48.69 185.49Z" fill="#a85a20"/><path d="M61.37 174.56L63.41 178.26L59.34 178.26Z" fill="#a85a20"/><path d="M74.69 176.01L76.72 179.71L72.66 179.71Z" fill="#a85a20"/><path d="M101.32 178.17L103.36 181.87L99.29 181.87Z" fill="#a85a20"/><path d="M131.28 181.79L133.32 185.49L129.25 185.49Z" fill="#a85a20"/><path d="M162.91 185.41L164.94 189.10L160.87 189.10Z" fill="#a85a20"/><polyline points="41.40,133.40 42.40,165.94 43.73,184.01 46.06,191.24 48.39,190.52 50.72,187.62 61.37,183.29 74.69,169.55 101.32,175.33 131.28,195.00 162.91,178.01" fill="none" stroke="#33a6d8" stroke-width="0.9" stroke-linejoin="round"/><rect x="39.55" y="131.55" width="3.70" height="3.70" fill="#2a8cc4"/><rect x="40.55" y="164.09" width="3.70" height="3.70" fill="#2a8cc4"/><rect x="41.88" y="182.16" width="3.70" height="3.70" fill="#2a8cc4"/><rect x="44.21" y="189.39" width="3.70" height="3.70" fill="#2a8cc4"/><rect x="46.54" y="188.67" width="3.70" height="3.70" fill="#2a8cc4"/><rect x="48.87" y="185.78" width="3.70" height="3.70" fill="#2a8cc4"/><rect x="59.52" y="181.44" width="3.70" height="3.70" fill="#2a8cc4"/><rect x="72.84" y="167.70" width="3.70" height="3.70" fill="#2a8cc4"/><rect x="99.47" y="173.48" width="3.70" height="3.70" fill="#2a8cc4"/><rect x="129.43" y="193.15" width="3.70" height="3.70" fill="#2a8cc4"/><rect x="161.06" y="176.16" width="3.70" height="3.70" fill="#2a8cc4"/><polyline points="41.40,173.16 43.73,169.55 46.06,176.78 50.72,176.78 61.37,143.52 74.69,165.21 101.32,176.06 131.28,182.56 162.91,185.46" fill="none" stroke="#ee9420" stroke-width="0.9" stroke-linejoin="round"/><path d="M41.40 175.38L43.44 171.69L39.36 171.69Z" fill="#e08810"/><path d="M43.73 171.77L45.77 168.07L41.70 168.07Z" fill="#e08810"/><path d="M46.06 179.00L48.10 175.30L44.03 175.30Z" fill="#e08810"/><path d="M50.72 179.00L52.76 175.30L48.69 175.30Z" fill="#e08810"/><path d="M61.37 145.74L63.41 142.04L59.34 142.04Z" fill="#e08810"/><path d="M74.69 167.43L76.72 163.73L72.66 163.73Z" fill="#e08810"/><path d="M101.32 178.28L103.36 174.58L99.29 174.58Z" fill="#e08810"/><path d="M131.28 184.78L133.32 181.08L129.25 181.08Z" fill="#e08810"/><path d="M162.91 187.68L164.94 183.98L160.87 183.98Z" fill="#e08810"/><polyline points="39.07,185.46 41.40,153.64 42.73,182.56 43.73,190.52 46.06,184.73 48.39,182.56 50.72,181.84 61.37,167.38 74.69,177.65 101.32,183.29 131.28,188.13 162.91,185.67" fill="none" stroke="#c0183a" stroke-width="1.25" stroke-linejoin="round"/><path d="M39.07 181.12V189.79M37.37 181.12H40.77M37.37 189.79H40.77" stroke="#b0102e" stroke-width="0.9" fill="none"/><circle cx="39.07" cy="185.46" r="2.00" fill="#b0102e"/><path d="M41.40 149.31V157.98M39.70 149.31H43.10M39.70 157.98H43.10" stroke="#b0102e" stroke-width="0.9" fill="none"/><circle cx="41.40" cy="153.64" r="2.00" fill="#b0102e"/><path d="M42.73 178.23V186.90M41.03 178.23H44.43M41.03 186.90H44.43" stroke="#b0102e" stroke-width="0.9" fill="none"/><circle cx="42.73" cy="182.56" r="2.00" fill="#b0102e"/><path d="M43.73 186.18V194.85M42.03 186.18H45.43M42.03 194.85H45.43" stroke="#b0102e" stroke-width="0.9" fill="none"/><circle cx="43.73" cy="190.52" r="2.00" fill="#b0102e"/><path d="M46.06 180.40V189.07M44.36 180.40H47.76M44.36 189.07H47.76" stroke="#b0102e" stroke-width="0.9" fill="none"/><circle cx="46.06" cy="184.73" r="2.00" fill="#b0102e"/><path d="M48.39 178.23V186.90M46.69 178.23H50.09M46.69 186.90H50.09" stroke="#b0102e" stroke-width="0.9" fill="none"/><circle cx="48.39" cy="182.56" r="2.00" fill="#b0102e"/><path d="M50.72 178.23V185.46M49.02 178.23H52.42M49.02 185.46H52.42" stroke="#b0102e" stroke-width="0.9" fill="none"/><circle cx="50.72" cy="181.84" r="2.00" fill="#b0102e"/><path d="M61.37 162.32V172.44M59.67 162.32H63.07M59.67 172.44H63.07" stroke="#b0102e" stroke-width="0.9" fill="none"/><circle cx="61.37" cy="167.38" r="2.00" fill="#b0102e"/><path d="M74.69 174.03V181.26M72.99 174.03H76.39M72.99 181.26H76.39" stroke="#b0102e" stroke-width="0.9" fill="none"/><circle cx="74.69" cy="177.65" r="2.00" fill="#b0102e"/><path d="M101.32 180.39V186.18M99.62 180.39H103.02M99.62 186.18H103.02" stroke="#b0102e" stroke-width="0.9" fill="none"/><circle cx="101.32" cy="183.29" r="2.00" fill="#b0102e"/><path d="M131.28 185.24V191.02M129.58 185.24H132.98M129.58 191.02H132.98" stroke="#b0102e" stroke-width="0.9" fill="none"/><circle cx="131.28" cy="188.13" r="2.00" fill="#b0102e"/><path d="M162.91 182.78V188.56M161.21 182.78H164.61M161.21 188.56H164.61" stroke="#b0102e" stroke-width="0.9" fill="none"/><circle cx="162.91" cy="185.67" r="2.00" fill="#b0102e"/></g>
<path d="M32.2 205.70H35" stroke="#2b2b2b" stroke-width="0.9"/>
<text x="29" y="207.85" text-anchor="end" font-size="6.4" fill="#555555" stroke="#555555" stroke-width="0.1">0</text>
<path d="M32.2 191.24H35" stroke="#2b2b2b" stroke-width="0.9"/>
<text x="29" y="193.39" text-anchor="end" font-size="6.4" fill="#555555" stroke="#555555" stroke-width="0.1">20</text>
<path d="M32.2 176.78H35" stroke="#2b2b2b" stroke-width="0.9"/>
<text x="29" y="178.93" text-anchor="end" font-size="6.4" fill="#555555" stroke="#555555" stroke-width="0.1">40</text>
<path d="M32.2 162.32H35" stroke="#2b2b2b" stroke-width="0.9"/>
<text x="29" y="164.47" text-anchor="end" font-size="6.4" fill="#555555" stroke="#555555" stroke-width="0.1">60</text>
<path d="M32.2 147.86H35" stroke="#2b2b2b" stroke-width="0.9"/>
<text x="29" y="150.01" text-anchor="end" font-size="6.4" fill="#555555" stroke="#555555" stroke-width="0.1">80</text>
<path d="M32.2 133.40H35" stroke="#2b2b2b" stroke-width="0.9"/>
<text x="29" y="135.55" text-anchor="end" font-size="6.4" fill="#555555" stroke="#555555" stroke-width="0.1">100</text>
<path d="M41.40 205.7V208.29999999999998" stroke="#2b2b2b" stroke-width="0.9"/>
<text x="41.40" y="216.75" text-anchor="middle" font-size="6.4" fill="#555555" stroke="#555555" stroke-width="0.1">0</text>
<path d="M58.05 205.7V208.29999999999998" stroke="#2b2b2b" stroke-width="0.9"/>
<text x="58.05" y="216.75" text-anchor="middle" font-size="6.4" fill="#555555" stroke="#555555" stroke-width="0.1">50</text>
<path d="M74.69 205.7V208.29999999999998" stroke="#2b2b2b" stroke-width="0.9"/>
<text x="74.69" y="216.75" text-anchor="middle" font-size="6.4" fill="#555555" stroke="#555555" stroke-width="0.1">100</text>
<path d="M91.33 205.7V208.29999999999998" stroke="#2b2b2b" stroke-width="0.9"/>
<text x="91.33" y="216.75" text-anchor="middle" font-size="6.4" fill="#555555" stroke="#555555" stroke-width="0.1">150</text>
<path d="M107.98 205.7V208.29999999999998" stroke="#2b2b2b" stroke-width="0.9"/>
<text x="107.98" y="216.75" text-anchor="middle" font-size="6.4" fill="#555555" stroke="#555555" stroke-width="0.1">200</text>
<path d="M124.62 205.7V208.29999999999998" stroke="#2b2b2b" stroke-width="0.9"/>
<text x="124.62" y="216.75" text-anchor="middle" font-size="6.4" fill="#555555" stroke="#555555" stroke-width="0.1">250</text>
<path d="M141.27 205.7V208.29999999999998" stroke="#2b2b2b" stroke-width="0.9"/>
<text x="141.27" y="216.75" text-anchor="middle" font-size="6.4" fill="#555555" stroke="#555555" stroke-width="0.1">300</text>
<path d="M157.91 205.7V208.29999999999998" stroke="#2b2b2b" stroke-width="0.9"/>
<text x="157.91" y="216.75" text-anchor="middle" font-size="6.4" fill="#555555" stroke="#555555" stroke-width="0.1">350</text>
<text x="102.0" y="229.0" text-anchor="middle" font-size="8.3" font-weight="bold" fill="#383838" textLength="51.5" lengthAdjust="spacingAndGlyphs">Days post-transplant</text>
<text transform="translate(13.45,168.0) rotate(-90)" x="0" y="0" text-anchor="middle" font-size="8" font-weight="bold" fill="#454545" textLength="41.0" lengthAdjust="spacingAndGlyphs">TCM (% of CD4)</text>
<path d="M205.5 130.7V205.7" stroke="#2b2b2b" stroke-width="1.2" fill="none"/>
<path d="M202.7 205.7H338.5" stroke="#2b2b2b" stroke-width="1.1" fill="none"/>
<g><polyline points="212.30,176.78 216.96,173.16 221.62,169.55 232.28,180.39 245.60,154.87 272.24,173.31 302.21,161.02 333.85,170.20" fill="none" stroke="#c0c0c0" stroke-width="0.9" stroke-linejoin="round"/><path d="M212.30 179.00L214.34 175.30L210.27 175.30Z" fill="#b0b0b0"/><path d="M216.96 175.38L219.00 171.69L214.93 171.69Z" fill="#b0b0b0"/><path d="M221.62 171.77L223.66 168.07L219.59 168.07Z" fill="#b0b0b0"/><path d="M232.28 182.61L234.31 178.91L230.25 178.91Z" fill="#b0b0b0"/><path d="M245.60 157.09L247.64 153.39L243.57 153.39Z" fill="#b0b0b0"/><path d="M272.24 175.53L274.28 171.83L270.20 171.83Z" fill="#b0b0b0"/><path d="M302.21 163.24L304.25 159.54L300.18 159.54Z" fill="#b0b0b0"/><path d="M333.85 172.42L335.88 168.72L331.81 168.72Z" fill="#b0b0b0"/><polyline points="212.30,169.55 216.96,165.94 221.62,163.77 232.28,176.78 245.60,160.87 272.24,178.95 302.21,181.12 333.85,184.01" fill="none" stroke="#b4c48a" stroke-width="0.9" stroke-linejoin="round"/><path d="M212.30 171.77L214.34 168.07L210.27 168.07Z" fill="#a8b880"/><path d="M216.96 168.16L219.00 164.46L214.93 164.46Z" fill="#a8b880"/><path d="M221.62 165.99L223.66 162.29L219.59 162.29Z" fill="#a8b880"/><path d="M232.28 179.00L234.31 175.30L230.25 175.30Z" fill="#a8b880"/><path d="M245.60 163.09L247.64 159.39L243.57 159.39Z" fill="#a8b880"/><path d="M272.24 181.17L274.28 177.47L270.20 177.47Z" fill="#a8b880"/><path d="M302.21 183.34L304.25 179.64L300.18 179.64Z" fill="#a8b880"/><path d="M333.85 186.23L335.88 182.53L331.81 182.53Z" fill="#a8b880"/><polyline points="212.30,169.55 216.96,162.32 221.62,155.45" fill="none" stroke="#505050" stroke-width="0.9" stroke-linejoin="round"/><path d="M212.30 167.33L214.34 171.03L210.27 171.03Z" fill="#fff" stroke="#444444" stroke-width="0.6"/><path d="M216.96 160.10L219.00 163.80L214.93 163.80Z" fill="#fff" stroke="#444444" stroke-width="0.6"/><path d="M221.62 153.23L223.66 156.93L219.59 156.93Z" fill="#fff" stroke="#444444" stroke-width="0.6"/><polyline points="212.30,191.24 214.63,184.01 216.96,176.78 221.62,162.32 232.28,202.37 245.60,186.54 272.24,188.71 302.21,194.93 333.85,198.11" fill="none" stroke="#f0c030" stroke-width="0.9" stroke-linejoin="round"/><rect x="210.85" y="189.79" width="2.90" height="2.90" fill="#fff" stroke="#e8b820" stroke-width="0.9"/><rect x="213.18" y="182.56" width="2.90" height="2.90" fill="#fff" stroke="#e8b820" stroke-width="0.9"/><rect x="215.51" y="175.33" width="2.90" height="2.90" fill="#fff" stroke="#e8b820" stroke-width="0.9"/><rect x="220.17" y="160.87" width="2.90" height="2.90" fill="#fff" stroke="#e8b820" stroke-width="0.9"/><rect x="230.83" y="200.92" width="2.90" height="2.90" fill="#fff" stroke="#e8b820" stroke-width="0.9"/><rect x="244.15" y="185.09" width="2.90" height="2.90" fill="#fff" stroke="#e8b820" stroke-width="0.9"/><rect x="270.79" y="187.26" width="2.90" height="2.90" fill="#fff" stroke="#e8b820" stroke-width="0.9"/><rect x="300.76" y="193.48" width="2.90" height="2.90" fill="#fff" stroke="#e8b820" stroke-width="0.9"/><rect x="332.39" y="196.66" width="2.90" height="2.90" fill="#fff" stroke="#e8b820" stroke-width="0.9"/><polyline points="212.30,176.78 214.63,161.60 216.96,169.55 221.62,183.29 232.28,180.39 245.60,189.58 272.24,182.56 302.21,184.01 333.85,187.62" fill="none" stroke="#d42a8a" stroke-width="0.9" stroke-linejoin="round"/><circle cx="212.30" cy="176.78" r="1.40" fill="#fff" stroke="#d02080" stroke-width="1.05"/><circle cx="214.63" cy="161.60" r="1.40" fill="#fff" stroke="#d02080" stroke-width="1.05"/><circle cx="216.96" cy="169.55" r="1.40" fill="#fff" stroke="#d02080" stroke-width="1.05"/><circle cx="221.62" cy="183.29" r="1.40" fill="#fff" stroke="#d02080" stroke-width="1.05"/><circle cx="232.28" cy="180.39" r="1.40" fill="#fff" stroke="#d02080" stroke-width="1.05"/><circle cx="245.60" cy="189.58" r="1.40" fill="#fff" stroke="#d02080" stroke-width="1.05"/><circle cx="272.24" cy="182.56" r="1.40" fill="#fff" stroke="#d02080" stroke-width="1.05"/><circle cx="302.21" cy="184.01" r="1.40" fill="#fff" stroke="#d02080" stroke-width="1.05"/><circle cx="333.85" cy="187.62" r="1.40" fill="#fff" stroke="#d02080" stroke-width="1.05"/><polyline points="212.30,171.72 214.63,173.16 216.96,169.55 221.62,165.94 232.28,149.67 245.60,146.78 272.24,167.16 302.21,181.12 333.85,198.11" fill="none" stroke="#1a3560" stroke-width="0.9" stroke-linejoin="round"/><path d="M212.30 169.31L214.34 171.72L212.30 174.12L210.27 171.72Z" fill="#15305a"/><path d="M214.63 170.76L216.67 173.16L214.63 175.57L212.60 173.16Z" fill="#15305a"/><path d="M216.96 167.14L219.00 169.55L216.96 171.95L214.93 169.55Z" fill="#15305a"/><path d="M221.62 163.53L223.66 165.94L221.62 168.34L219.59 165.94Z" fill="#15305a"/><path d="M232.28 147.26L234.31 149.67L232.28 152.07L230.25 149.67Z" fill="#15305a"/><path d="M245.60 144.37L247.64 146.78L245.60 149.18L243.57 146.78Z" fill="#15305a"/><path d="M272.24 164.76L274.28 167.16L272.24 169.57L270.20 167.16Z" fill="#15305a"/><path d="M302.21 178.71L304.25 181.12L302.21 183.52L300.18 181.12Z" fill="#15305a"/><path d="M333.85 195.70L335.88 198.11L333.85 200.51L331.81 198.11Z" fill="#15305a"/><polyline points="212.30,168.10 214.63,176.78 216.96,185.60 221.62,173.16 232.28,184.01 245.60,167.38 272.24,188.20 302.21,190.37 333.85,193.48" fill="none" stroke="#338f3e" stroke-width="0.9" stroke-linejoin="round"/><path d="M212.30 170.32L214.34 166.62L210.27 166.62Z" fill="#2f8f3a"/><path d="M214.63 179.00L216.67 175.30L212.60 175.30Z" fill="#2f8f3a"/><path d="M216.96 187.82L219.00 184.12L214.93 184.12Z" fill="#2f8f3a"/><path d="M221.62 175.38L223.66 171.69L219.59 171.69Z" fill="#2f8f3a"/><path d="M232.28 186.23L234.31 182.53L230.25 182.53Z" fill="#2f8f3a"/><path d="M245.60 169.60L247.64 165.90L243.57 165.90Z" fill="#2f8f3a"/><path d="M272.24 190.42L274.28 186.72L270.20 186.72Z" fill="#2f8f3a"/><path d="M302.21 192.59L304.25 188.89L300.18 188.89Z" fill="#2f8f3a"/><path d="M333.85 195.70L335.88 192.00L331.81 192.00Z" fill="#2f8f3a"/><polyline points="212.30,184.01 214.63,173.16 216.96,169.55 221.62,176.78 232.28,184.01 245.60,184.01 272.24,184.01 302.21,187.62 333.85,191.24" fill="none" stroke="#b0602a" stroke-width="0.9" stroke-linejoin="round"/><path d="M212.30 181.79L214.34 185.49L210.27 185.49Z" fill="#a85a20"/><path d="M214.63 170.94L216.67 174.64L212.60 174.64Z" fill="#a85a20"/><path d="M216.96 167.33L219.00 171.03L214.93 171.03Z" fill="#a85a20"/><path d="M221.62 174.56L223.66 178.26L219.59 178.26Z" fill="#a85a20"/><path d="M232.28 181.79L234.31 185.49L230.25 185.49Z" fill="#a85a20"/><path d="M245.60 181.79L247.64 185.49L243.57 185.49Z" fill="#a85a20"/><path d="M272.24 181.79L274.28 185.49L270.20 185.49Z" fill="#a85a20"/><path d="M302.21 185.41L304.25 189.10L300.18 189.10Z" fill="#a85a20"/><path d="M333.85 189.02L335.88 192.72L331.81 192.72Z" fill="#a85a20"/><polyline points="212.30,205.70 213.30,198.47 214.63,187.62 216.96,176.78 221.62,193.92 232.28,169.55 245.60,179.67 272.24,161.02 302.21,157.26 333.85,178.01" fill="none" stroke="#33a6d8" stroke-width="0.9" stroke-linejoin="round"/><rect x="210.45" y="203.85" width="3.70" height="3.70" fill="#2a8cc4"/><rect x="211.45" y="196.62" width="3.70" height="3.70" fill="#2a8cc4"/><rect x="212.78" y="185.78" width="3.70" height="3.70" fill="#2a8cc4"/><rect x="215.11" y="174.93" width="3.70" height="3.70" fill="#2a8cc4"/><rect x="219.77" y="192.07" width="3.70" height="3.70" fill="#2a8cc4"/><rect x="230.43" y="167.70" width="3.70" height="3.70" fill="#2a8cc4"/><rect x="243.75" y="177.82" width="3.70" height="3.70" fill="#2a8cc4"/><rect x="270.39" y="159.17" width="3.70" height="3.70" fill="#2a8cc4"/><rect x="300.36" y="155.41" width="3.70" height="3.70" fill="#2a8cc4"/><rect x="332.00" y="176.16" width="3.70" height="3.70" fill="#2a8cc4"/><polyline points="211.30,201.36 214.63,180.39 216.96,169.55 221.62,162.32 232.28,204.25 245.60,184.01 272.24,187.62 302.21,192.69 333.85,195.58" fill="none" stroke="#ee9420" stroke-width="0.9" stroke-linejoin="round"/><path d="M211.30 203.58L213.34 199.88L209.27 199.88Z" fill="#e08810"/><path d="M214.63 182.61L216.67 178.91L212.60 178.91Z" fill="#e08810"/><path d="M216.96 171.77L219.00 168.07L214.93 168.07Z" fill="#e08810"/><path d="M221.62 164.54L223.66 160.84L219.59 160.84Z" fill="#e08810"/><path d="M232.28 206.47L234.31 202.77L230.25 202.77Z" fill="#e08810"/><path d="M245.60 186.23L247.64 182.53L243.57 182.53Z" fill="#e08810"/><path d="M272.24 189.84L274.28 186.15L270.20 186.15Z" fill="#e08810"/><path d="M302.21 194.91L304.25 191.21L300.18 191.21Z" fill="#e08810"/><path d="M333.85 197.80L335.88 194.10L331.81 194.10Z" fill="#e08810"/><polyline points="209.97,187.99 212.30,193.41 214.63,184.01 216.96,170.49 219.29,173.16 221.62,174.03 232.28,179.38 245.60,174.61 272.24,177.07 302.21,180.47 333.85,187.26" fill="none" stroke="#c0183a" stroke-width="1.25" stroke-linejoin="round"/><path d="M209.97 183.65V192.32M208.27 183.65H211.67M208.27 192.32H211.67" stroke="#b0102e" stroke-width="0.9" fill="none"/><circle cx="209.97" cy="187.99" r="2.00" fill="#b0102e"/><path d="M212.30 189.07V197.75M210.60 189.07H214.00M210.60 197.75H214.00" stroke="#b0102e" stroke-width="0.9" fill="none"/><circle cx="212.30" cy="193.41" r="2.00" fill="#b0102e"/><path d="M214.63 179.67V188.35M212.93 179.67H216.33M212.93 188.35H216.33" stroke="#b0102e" stroke-width="0.9" fill="none"/><circle cx="214.63" cy="184.01" r="2.00" fill="#b0102e"/><path d="M216.96 166.15V174.83M215.26 166.15H218.66M215.26 174.83H218.66" stroke="#b0102e" stroke-width="0.9" fill="none"/><circle cx="216.96" cy="170.49" r="2.00" fill="#b0102e"/><path d="M219.29 168.83V177.50M217.59 168.83H220.99M217.59 177.50H220.99" stroke="#b0102e" stroke-width="0.9" fill="none"/><circle cx="219.29" cy="173.16" r="2.00" fill="#b0102e"/><path d="M221.62 169.69V178.37M219.92 169.69H223.32M219.92 178.37H223.32" stroke="#b0102e" stroke-width="0.9" fill="none"/><circle cx="221.62" cy="174.03" r="2.00" fill="#b0102e"/><path d="M232.28 175.77V183.00M230.58 175.77H233.98M230.58 183.00H233.98" stroke="#b0102e" stroke-width="0.9" fill="none"/><circle cx="232.28" cy="179.38" r="2.00" fill="#b0102e"/><path d="M245.60 171.00V178.23M243.90 171.00H247.30M243.90 178.23H247.30" stroke="#b0102e" stroke-width="0.9" fill="none"/><circle cx="245.60" cy="174.61" r="2.00" fill="#b0102e"/><path d="M272.24 173.45V180.68M270.54 173.45H273.94M270.54 180.68H273.94" stroke="#b0102e" stroke-width="0.9" fill="none"/><circle cx="272.24" cy="177.07" r="2.00" fill="#b0102e"/><path d="M302.21 176.85V184.08M300.51 176.85H303.91M300.51 184.08H303.91" stroke="#b0102e" stroke-width="0.9" fill="none"/><circle cx="302.21" cy="180.47" r="2.00" fill="#b0102e"/><path d="M333.85 183.65V190.88M332.15 183.65H335.55M332.15 190.88H335.55" stroke="#b0102e" stroke-width="0.9" fill="none"/><circle cx="333.85" cy="187.26" r="2.00" fill="#b0102e"/></g>
<path d="M202.7 205.70H205.5" stroke="#2b2b2b" stroke-width="0.9"/>
<text x="199.5" y="207.85" text-anchor="end" font-size="6.4" fill="#555555" stroke="#555555" stroke-width="0.1">0</text>
<path d="M202.7 191.24H205.5" stroke="#2b2b2b" stroke-width="0.9"/>
<text x="199.5" y="193.39" text-anchor="end" font-size="6.4" fill="#555555" stroke="#555555" stroke-width="0.1">20</text>
<path d="M202.7 176.78H205.5" stroke="#2b2b2b" stroke-width="0.9"/>
<text x="199.5" y="178.93" text-anchor="end" font-size="6.4" fill="#555555" stroke="#555555" stroke-width="0.1">40</text>
<path d="M202.7 162.32H205.5" stroke="#2b2b2b" stroke-width="0.9"/>
<text x="199.5" y="164.47" text-anchor="end" font-size="6.4" fill="#555555" stroke="#555555" stroke-width="0.1">60</text>
<path d="M202.7 147.86H205.5" stroke="#2b2b2b" stroke-width="0.9"/>
<text x="199.5" y="150.01" text-anchor="end" font-size="6.4" fill="#555555" stroke="#555555" stroke-width="0.1">80</text>
<path d="M202.7 133.40H205.5" stroke="#2b2b2b" stroke-width="0.9"/>
<text x="199.5" y="135.55" text-anchor="end" font-size="6.4" fill="#555555" stroke="#555555" stroke-width="0.1">100</text>
<path d="M212.30 205.7V208.29999999999998" stroke="#2b2b2b" stroke-width="0.9"/>
<text x="212.30" y="216.75" text-anchor="middle" font-size="6.4" fill="#555555" stroke="#555555" stroke-width="0.1">0</text>
<path d="M228.95 205.7V208.29999999999998" stroke="#2b2b2b" stroke-width="0.9"/>
<text x="228.95" y="216.75" text-anchor="middle" font-size="6.4" fill="#555555" stroke="#555555" stroke-width="0.1">50</text>
<path d="M245.60 205.7V208.29999999999998" stroke="#2b2b2b" stroke-width="0.9"/>
<text x="245.60" y="216.75" text-anchor="middle" font-size="6.4" fill="#555555" stroke="#555555" stroke-width="0.1">100</text>
<path d="M262.25 205.7V208.29999999999998" stroke="#2b2b2b" stroke-width="0.9"/>
<text x="262.25" y="216.75" text-anchor="middle" font-size="6.4" fill="#555555" stroke="#555555" stroke-width="0.1">150</text>
<path d="M278.90 205.7V208.29999999999998" stroke="#2b2b2b" stroke-width="0.9"/>
<text x="278.90" y="216.75" text-anchor="middle" font-size="6.4" fill="#555555" stroke="#555555" stroke-width="0.1">200</text>
<path d="M295.55 205.7V208.29999999999998" stroke="#2b2b2b" stroke-width="0.9"/>
<text x="295.55" y="216.75" text-anchor="middle" font-size="6.4" fill="#555555" stroke="#555555" stroke-width="0.1">250</text>
<path d="M312.20 205.7V208.29999999999998" stroke="#2b2b2b" stroke-width="0.9"/>
<text x="312.20" y="216.75" text-anchor="middle" font-size="6.4" fill="#555555" stroke="#555555" stroke-width="0.1">300</text>
<path d="M328.85 205.7V208.29999999999998" stroke="#2b2b2b" stroke-width="0.9"/>
<text x="328.85" y="216.75" text-anchor="middle" font-size="6.4" fill="#555555" stroke="#555555" stroke-width="0.1">350</text>
<text x="272.5" y="229.0" text-anchor="middle" font-size="8.3" font-weight="bold" fill="#383838" textLength="51.3" lengthAdjust="spacingAndGlyphs">Days post-transplant</text>
<text transform="translate(183.75,168.1) rotate(-90)" x="0" y="0" text-anchor="middle" font-size="8" font-weight="bold" fill="#454545" textLength="40.6" lengthAdjust="spacingAndGlyphs">TEM (% of CD4)</text>
<path d="M376.4 129.4V205.7" stroke="#2b2b2b" stroke-width="1.2" fill="none"/>
<path d="M373.59999999999997 205.7H511.8" stroke="#2b2b2b" stroke-width="1.1" fill="none"/>
<g><polyline points="383.10,196.54 387.83,191.04 392.56,165.38 403.38,196.54 416.90,200.20 443.94,202.03 474.36,202.03 506.47,202.03" fill="none" stroke="#c0c0c0" stroke-width="0.9" stroke-linejoin="round"/><path d="M383.10 198.76L385.14 195.06L381.06 195.06Z" fill="#b0b0b0"/><path d="M387.83 193.26L389.87 189.56L385.80 189.56Z" fill="#b0b0b0"/><path d="M392.56 167.60L394.60 163.91L390.53 163.91Z" fill="#b0b0b0"/><path d="M403.38 198.76L405.42 195.06L401.34 195.06Z" fill="#b0b0b0"/><path d="M416.90 202.42L418.94 198.72L414.87 198.72Z" fill="#b0b0b0"/><path d="M443.94 204.25L445.98 200.56L441.91 200.56Z" fill="#b0b0b0"/><path d="M474.36 204.25L476.40 200.56L472.32 200.56Z" fill="#b0b0b0"/><path d="M506.47 204.25L508.51 200.56L504.44 200.56Z" fill="#b0b0b0"/><polyline points="383.10,200.20 387.83,194.70 392.56,196.54 403.38,198.37 416.90,200.20 443.94,200.20 474.36,198.37 506.47,200.20" fill="none" stroke="#b4c48a" stroke-width="0.9" stroke-linejoin="round"/><path d="M383.10 202.42L385.14 198.72L381.06 198.72Z" fill="#a8b880"/><path d="M387.83 196.92L389.87 193.22L385.80 193.22Z" fill="#a8b880"/><path d="M392.56 198.76L394.60 195.06L390.53 195.06Z" fill="#a8b880"/><path d="M403.38 200.59L405.42 196.89L401.34 196.89Z" fill="#a8b880"/><path d="M416.90 202.42L418.94 198.72L414.87 198.72Z" fill="#a8b880"/><path d="M443.94 202.42L445.98 198.72L441.91 198.72Z" fill="#a8b880"/><path d="M474.36 200.59L476.40 196.89L472.32 196.89Z" fill="#a8b880"/><path d="M506.47 202.42L508.51 198.72L504.44 198.72Z" fill="#a8b880"/><polyline points="383.10,200.20 387.83,198.37 392.56,200.20" fill="none" stroke="#505050" stroke-width="0.9" stroke-linejoin="round"/><path d="M383.10 197.98L385.14 201.68L381.06 201.68Z" fill="#fff" stroke="#444444" stroke-width="0.6"/><path d="M387.83 196.15L389.87 199.85L385.80 199.85Z" fill="#fff" stroke="#444444" stroke-width="0.6"/><path d="M392.56 197.98L394.60 201.68L390.53 201.68Z" fill="#fff" stroke="#444444" stroke-width="0.6"/><polyline points="383.10,203.87 385.47,202.03 387.83,203.87 392.56,202.03 403.38,203.87 416.90,196.54 443.94,154.39 474.36,196.54 506.47,199.47" fill="none" stroke="#f0c030" stroke-width="0.9" stroke-linejoin="round"/><rect x="381.65" y="202.42" width="2.90" height="2.90" fill="#fff" stroke="#e8b820" stroke-width="0.9"/><rect x="384.02" y="200.59" width="2.90" height="2.90" fill="#fff" stroke="#e8b820" stroke-width="0.9"/><rect x="386.38" y="202.42" width="2.90" height="2.90" fill="#fff" stroke="#e8b820" stroke-width="0.9"/><rect x="391.11" y="200.59" width="2.90" height="2.90" fill="#fff" stroke="#e8b820" stroke-width="0.9"/><rect x="401.93" y="202.42" width="2.90" height="2.90" fill="#fff" stroke="#e8b820" stroke-width="0.9"/><rect x="415.45" y="195.09" width="2.90" height="2.90" fill="#fff" stroke="#e8b820" stroke-width="0.9"/><rect x="442.49" y="152.94" width="2.90" height="2.90" fill="#fff" stroke="#e8b820" stroke-width="0.9"/><rect x="472.91" y="195.09" width="2.90" height="2.90" fill="#fff" stroke="#e8b820" stroke-width="0.9"/><rect x="505.02" y="198.02" width="2.90" height="2.90" fill="#fff" stroke="#e8b820" stroke-width="0.9"/><polyline points="380.73,182.98 383.10,187.38 387.83,174.91 392.56,189.21 403.38,184.44 416.90,193.79 443.94,189.94 474.36,192.87 506.47,194.70" fill="none" stroke="#d42a8a" stroke-width="0.9" stroke-linejoin="round"/><circle cx="380.73" cy="182.98" r="1.40" fill="#fff" stroke="#d02080" stroke-width="1.05"/><circle cx="383.10" cy="187.38" r="1.40" fill="#fff" stroke="#d02080" stroke-width="1.05"/><circle cx="387.83" cy="174.91" r="1.40" fill="#fff" stroke="#d02080" stroke-width="1.05"/><circle cx="392.56" cy="189.21" r="1.40" fill="#fff" stroke="#d02080" stroke-width="1.05"/><circle cx="403.38" cy="184.44" r="1.40" fill="#fff" stroke="#d02080" stroke-width="1.05"/><circle cx="416.90" cy="193.79" r="1.40" fill="#fff" stroke="#d02080" stroke-width="1.05"/><circle cx="443.94" cy="189.94" r="1.40" fill="#fff" stroke="#d02080" stroke-width="1.05"/><circle cx="474.36" cy="192.87" r="1.40" fill="#fff" stroke="#d02080" stroke-width="1.05"/><circle cx="506.47" cy="194.70" r="1.40" fill="#fff" stroke="#d02080" stroke-width="1.05"/><polyline points="383.10,194.70 385.47,198.37 387.83,200.20 392.56,196.54 403.38,198.37 416.90,200.20 443.94,200.20 474.36,184.08 506.47,196.54" fill="none" stroke="#1a3560" stroke-width="0.9" stroke-linejoin="round"/><path d="M383.10 192.30L385.14 194.70L383.10 197.11L381.06 194.70Z" fill="#15305a"/><path d="M385.47 195.96L387.50 198.37L385.47 200.77L383.43 198.37Z" fill="#15305a"/><path d="M387.83 197.80L389.87 200.20L387.83 202.61L385.80 200.20Z" fill="#15305a"/><path d="M392.56 194.13L394.60 196.54L392.56 198.94L390.53 196.54Z" fill="#15305a"/><path d="M403.38 195.96L405.42 198.37L403.38 200.77L401.34 198.37Z" fill="#15305a"/><path d="M416.90 197.80L418.94 200.20L416.90 202.61L414.87 200.20Z" fill="#15305a"/><path d="M443.94 197.80L445.98 200.20L443.94 202.61L441.91 200.20Z" fill="#15305a"/><path d="M474.36 181.67L476.40 184.08L474.36 186.48L472.32 184.08Z" fill="#15305a"/><path d="M506.47 194.13L508.51 196.54L506.47 198.94L504.44 196.54Z" fill="#15305a"/><polyline points="383.10,198.37 385.13,146.33 386.48,191.04 387.83,196.54 392.56,182.98 403.38,200.20 416.90,202.03 443.94,192.87 474.36,145.59 506.47,191.59" fill="none" stroke="#338f3e" stroke-width="0.9" stroke-linejoin="round"/><path d="M383.10 200.59L385.14 196.89L381.06 196.89Z" fill="#2f8f3a"/><path d="M385.13 148.55L387.16 144.85L383.09 144.85Z" fill="#2f8f3a"/><path d="M386.48 193.26L388.52 189.56L384.44 189.56Z" fill="#2f8f3a"/><path d="M387.83 198.76L389.87 195.06L385.80 195.06Z" fill="#2f8f3a"/><path d="M392.56 185.20L394.60 181.50L390.53 181.50Z" fill="#2f8f3a"/><path d="M403.38 202.42L405.42 198.72L401.34 198.72Z" fill="#2f8f3a"/><path d="M416.90 204.25L418.94 200.56L414.87 200.56Z" fill="#2f8f3a"/><path d="M443.94 195.09L445.98 191.39L441.91 191.39Z" fill="#2f8f3a"/><path d="M474.36 147.81L476.40 144.11L472.32 144.11Z" fill="#2f8f3a"/><path d="M506.47 193.81L508.51 190.11L504.44 190.11Z" fill="#2f8f3a"/><polyline points="383.10,196.54 385.47,191.04 387.83,198.37 392.56,194.70 403.38,192.87 416.90,198.37 443.94,198.37 474.36,196.54 506.47,200.20" fill="none" stroke="#b0602a" stroke-width="0.9" stroke-linejoin="round"/><path d="M383.10 194.32L385.14 198.02L381.06 198.02Z" fill="#a85a20"/><path d="M385.47 188.82L387.50 192.52L383.43 192.52Z" fill="#a85a20"/><path d="M387.83 196.15L389.87 199.85L385.80 199.85Z" fill="#a85a20"/><path d="M392.56 192.48L394.60 196.18L390.53 196.18Z" fill="#a85a20"/><path d="M403.38 190.65L405.42 194.35L401.34 194.35Z" fill="#a85a20"/><path d="M416.90 196.15L418.94 199.85L414.87 199.85Z" fill="#a85a20"/><path d="M443.94 196.15L445.98 199.85L441.91 199.85Z" fill="#a85a20"/><path d="M474.36 194.32L476.40 198.02L472.32 198.02Z" fill="#a85a20"/><path d="M506.47 197.98L508.51 201.68L504.44 201.68Z" fill="#a85a20"/><polyline points="383.10,202.03 385.47,203.87 387.83,200.20 392.56,202.03 403.38,203.87 416.90,203.87 443.94,204.23 474.36,198.37 506.47,200.39" fill="none" stroke="#33a6d8" stroke-width="0.9" stroke-linejoin="round"/><rect x="381.25" y="200.19" width="3.70" height="3.70" fill="#2a8cc4"/><rect x="383.62" y="202.02" width="3.70" height="3.70" fill="#2a8cc4"/><rect x="385.98" y="198.35" width="3.70" height="3.70" fill="#2a8cc4"/><rect x="390.71" y="200.19" width="3.70" height="3.70" fill="#2a8cc4"/><rect x="401.53" y="202.02" width="3.70" height="3.70" fill="#2a8cc4"/><rect x="415.05" y="202.02" width="3.70" height="3.70" fill="#2a8cc4"/><rect x="442.09" y="202.38" width="3.70" height="3.70" fill="#2a8cc4"/><rect x="472.51" y="196.52" width="3.70" height="3.70" fill="#2a8cc4"/><rect x="504.62" y="198.54" width="3.70" height="3.70" fill="#2a8cc4"/><polyline points="383.10,202.03 387.83,200.20 392.56,188.29 403.38,190.12 416.90,190.12 443.94,202.03 474.36,200.20 506.47,202.03" fill="none" stroke="#ee9420" stroke-width="0.9" stroke-linejoin="round"/><path d="M383.10 204.25L385.14 200.56L381.06 200.56Z" fill="#e08810"/><path d="M387.83 202.42L389.87 198.72L385.80 198.72Z" fill="#e08810"/><path d="M392.56 190.51L394.60 186.81L390.53 186.81Z" fill="#e08810"/><path d="M403.38 192.34L405.42 188.64L401.34 188.64Z" fill="#e08810"/><path d="M416.90 192.34L418.94 188.64L414.87 188.64Z" fill="#e08810"/><path d="M443.94 204.25L445.98 200.56L441.91 200.56Z" fill="#e08810"/><path d="M474.36 202.42L476.40 198.72L472.32 198.72Z" fill="#e08810"/><path d="M506.47 204.25L508.51 200.56L504.44 200.56Z" fill="#e08810"/><polyline points="380.73,192.87 383.10,191.04 385.47,192.87 387.83,194.70 392.56,196.54 403.38,197.45 416.90,195.62 443.94,195.25 474.36,189.94 506.47,196.35" fill="none" stroke="#c0183a" stroke-width="1.25" stroke-linejoin="round"/><path d="M380.73 189.21V196.54M379.03 189.21H382.43M379.03 196.54H382.43" stroke="#b0102e" stroke-width="0.9" fill="none"/><circle cx="380.73" cy="192.87" r="2.00" fill="#b0102e"/><path d="M383.10 186.46V195.62M381.40 186.46H384.80M381.40 195.62H384.80" stroke="#b0102e" stroke-width="0.9" fill="none"/><circle cx="383.10" cy="191.04" r="2.00" fill="#b0102e"/><path d="M385.47 189.21V196.54M383.77 189.21H387.17M383.77 196.54H387.17" stroke="#b0102e" stroke-width="0.9" fill="none"/><circle cx="385.47" cy="192.87" r="2.00" fill="#b0102e"/><path d="M387.83 191.04V198.37M386.13 191.04H389.53M386.13 198.37H389.53" stroke="#b0102e" stroke-width="0.9" fill="none"/><circle cx="387.83" cy="194.70" r="2.00" fill="#b0102e"/><path d="M392.56 193.79V199.29M390.86 193.79H394.26M390.86 199.29H394.26" stroke="#b0102e" stroke-width="0.9" fill="none"/><circle cx="392.56" cy="196.54" r="2.00" fill="#b0102e"/><path d="M403.38 194.70V200.20M401.68 194.70H405.08M401.68 200.20H405.08" stroke="#b0102e" stroke-width="0.9" fill="none"/><circle cx="403.38" cy="197.45" r="2.00" fill="#b0102e"/><path d="M416.90 192.87V198.37M415.20 192.87H418.60M415.20 198.37H418.60" stroke="#b0102e" stroke-width="0.9" fill="none"/><circle cx="416.90" cy="195.62" r="2.00" fill="#b0102e"/><path d="M443.94 192.51V198.00M442.24 192.51H445.64M442.24 198.00H445.64" stroke="#b0102e" stroke-width="0.9" fill="none"/><circle cx="443.94" cy="195.25" r="2.00" fill="#b0102e"/><path d="M474.36 186.28V193.61M472.66 186.28H476.06M472.66 193.61H476.06" stroke="#b0102e" stroke-width="0.9" fill="none"/><circle cx="474.36" cy="189.94" r="2.00" fill="#b0102e"/><path d="M506.47 193.61V199.10M504.77 193.61H508.17M504.77 199.10H508.17" stroke="#b0102e" stroke-width="0.9" fill="none"/><circle cx="506.47" cy="196.35" r="2.00" fill="#b0102e"/></g>
<path d="M373.59999999999997 205.70H376.4" stroke="#2b2b2b" stroke-width="0.9"/>
<text x="370.4" y="207.85" text-anchor="end" font-size="6.4" fill="#555555" stroke="#555555" stroke-width="0.1">0</text>
<path d="M373.59999999999997 187.38H376.4" stroke="#2b2b2b" stroke-width="0.9"/>
<text x="370.4" y="189.53" text-anchor="end" font-size="6.4" fill="#555555" stroke="#555555" stroke-width="0.1">10</text>
<path d="M373.59999999999997 169.05H376.4" stroke="#2b2b2b" stroke-width="0.9"/>
<text x="370.4" y="171.20" text-anchor="end" font-size="6.4" fill="#555555" stroke="#555555" stroke-width="0.1">20</text>
<path d="M373.59999999999997 150.72H376.4" stroke="#2b2b2b" stroke-width="0.9"/>
<text x="370.4" y="152.88" text-anchor="end" font-size="6.4" fill="#555555" stroke="#555555" stroke-width="0.1">30</text>
<path d="M373.59999999999997 132.40H376.4" stroke="#2b2b2b" stroke-width="0.9"/>
<text x="370.4" y="134.55" text-anchor="end" font-size="6.4" fill="#555555" stroke="#555555" stroke-width="0.1">40</text>
<path d="M383.10 205.7V208.29999999999998" stroke="#2b2b2b" stroke-width="0.9"/>
<text x="383.10" y="216.75" text-anchor="middle" font-size="6.4" fill="#555555" stroke="#555555" stroke-width="0.1">0</text>
<path d="M400.00 205.7V208.29999999999998" stroke="#2b2b2b" stroke-width="0.9"/>
<text x="400.00" y="216.75" text-anchor="middle" font-size="6.4" fill="#555555" stroke="#555555" stroke-width="0.1">50</text>
<path d="M416.90 205.7V208.29999999999998" stroke="#2b2b2b" stroke-width="0.9"/>
<text x="416.90" y="216.75" text-anchor="middle" font-size="6.4" fill="#555555" stroke="#555555" stroke-width="0.1">100</text>
<path d="M433.80 205.7V208.29999999999998" stroke="#2b2b2b" stroke-width="0.9"/>
<text x="433.80" y="216.75" text-anchor="middle" font-size="6.4" fill="#555555" stroke="#555555" stroke-width="0.1">150</text>
<path d="M450.70 205.7V208.29999999999998" stroke="#2b2b2b" stroke-width="0.9"/>
<text x="450.70" y="216.75" text-anchor="middle" font-size="6.4" fill="#555555" stroke="#555555" stroke-width="0.1">200</text>
<path d="M467.60 205.7V208.29999999999998" stroke="#2b2b2b" stroke-width="0.9"/>
<text x="467.60" y="216.75" text-anchor="middle" font-size="6.4" fill="#555555" stroke="#555555" stroke-width="0.1">250</text>
<path d="M484.50 205.7V208.29999999999998" stroke="#2b2b2b" stroke-width="0.9"/>
<text x="484.50" y="216.75" text-anchor="middle" font-size="6.4" fill="#555555" stroke="#555555" stroke-width="0.1">300</text>
<path d="M501.40 205.7V208.29999999999998" stroke="#2b2b2b" stroke-width="0.9"/>
<text x="501.40" y="216.75" text-anchor="middle" font-size="6.4" fill="#555555" stroke="#555555" stroke-width="0.1">350</text>
<text x="444.6" y="229.0" text-anchor="middle" font-size="8.3" font-weight="bold" fill="#383838" textLength="50.8" lengthAdjust="spacingAndGlyphs">Days post-transplant</text>
<text transform="translate(354.65,167.3) rotate(-90)" x="0" y="0" text-anchor="middle" font-size="8" font-weight="bold" fill="#454545" textLength="47.8" lengthAdjust="spacingAndGlyphs">TEMRA (% of CD4)</text>
<path d="M52.3 239.5H60.9" stroke="#8a2040" stroke-width="0.8"/>
<circle cx="56.60" cy="239.50" r="1.40" fill="#7a1030"/>
<text x="64.8" y="241.1" font-size="5.9" fill="#2a2a2a" stroke="#2a2a2a" stroke-width="0.1" textLength="13.6" lengthAdjust="spacingAndGlyphs">NMD</text>
<path d="M83.8 239.5H92.39999999999999" stroke="#70a8d4" stroke-width="0.8"/>
<rect x="86.70" y="238.10" width="2.80" height="2.80" fill="#3a80b8"/>
<text x="95" y="241.1" font-size="5.9" fill="#2a2a2a" stroke="#2a2a2a" stroke-width="0.1" textLength="21.9" lengthAdjust="spacingAndGlyphs">001-001</text>
<path d="M122.7 239.5H131.3" stroke="#8a6a50" stroke-width="0.8"/>
<path d="M127.00 237.82L128.54 240.62L125.46 240.62Z" fill="#6a4020"/>
<text x="134.2" y="241.1" font-size="5.9" fill="#2a2a2a" stroke="#2a2a2a" stroke-width="0.1" textLength="21.9" lengthAdjust="spacingAndGlyphs">001-002</text>
<path d="M161.2 239.5H169.79999999999998" stroke="#5a9a5a" stroke-width="0.8"/>
<path d="M165.50 241.18L167.04 238.38L163.96 238.38Z" fill="#2a7a2a"/>
<text x="172.9" y="241.1" font-size="5.9" fill="#2a2a2a" stroke="#2a2a2a" stroke-width="0.1" textLength="21.9" lengthAdjust="spacingAndGlyphs">001-003</text>
<path d="M199.8 239.5H208.4" stroke="#3a4a68" stroke-width="0.8"/>
<path d="M204.10 237.68L205.64 239.50L204.10 241.32L202.56 239.50Z" fill="#1a2a48"/>
<text x="211.9" y="241.1" font-size="5.9" fill="#2a2a2a" stroke="#2a2a2a" stroke-width="0.1" textLength="21.9" lengthAdjust="spacingAndGlyphs">001-004</text>
<path d="M239.4 239.5H248.0" stroke="#c860a0" stroke-width="0.8"/>
<circle cx="243.70" cy="239.50" r="0.95" fill="#fff" stroke="#c03080" stroke-width="1.05"/>
<text x="251.1" y="241.1" font-size="5.9" fill="#2a2a2a" stroke="#2a2a2a" stroke-width="0.1" textLength="21.9" lengthAdjust="spacingAndGlyphs">001-005</text>
<path d="M277.9 239.5H286.5" stroke="#f2e39a" stroke-width="0.8"/>
<rect x="281.20" y="238.50" width="2.00" height="2.00" fill="#fff" stroke="#efd878" stroke-width="0.9"/>
<text x="290.2" y="241.1" font-size="5.9" fill="#2a2a2a" stroke="#2a2a2a" stroke-width="0.1" textLength="21.9" lengthAdjust="spacingAndGlyphs">001-006</text>
<path d="M316.7 239.5H325.3" stroke="#666" stroke-width="0.8"/>
<path d="M321.00 237.82L322.54 240.62L319.46 240.62Z" fill="#fff" stroke="#444" stroke-width="0.6"/>
<text x="328.8" y="241.1" font-size="5.9" fill="#2a2a2a" stroke="#2a2a2a" stroke-width="0.1" textLength="21.9" lengthAdjust="spacingAndGlyphs">001-007</text>
<path d="M355.2 239.5H363.8" stroke="#d4dcb4" stroke-width="0.8"/>
<path d="M359.50 241.18L361.04 238.38L357.96 238.38Z" fill="#c0cc98"/>
<text x="367.8" y="241.1" font-size="5.9" fill="#2a2a2a" stroke="#2a2a2a" stroke-width="0.1" textLength="21.9" lengthAdjust="spacingAndGlyphs">001-008</text>
<path d="M394.4 239.5H403.0" stroke="#cfcfcf" stroke-width="0.8"/>
<path d="M398.70 241.18L400.24 238.38L397.16 238.38Z" fill="#bdbdbd"/>
<text x="406.6" y="241.1" font-size="5.9" fill="#2a2a2a" stroke="#2a2a2a" stroke-width="0.1" textLength="21.9" lengthAdjust="spacingAndGlyphs">001-009</text>
<path d="M433.3 239.5H441.90000000000003" stroke="#f2bb80" stroke-width="0.8"/>
<path d="M437.60 241.18L439.14 238.38L436.06 238.38Z" fill="#c88040"/>
<text x="445.8" y="241.1" font-size="5.9" fill="#2a2a2a" stroke="#2a2a2a" stroke-width="0.1" textLength="21.9" lengthAdjust="spacingAndGlyphs">001-010</text>
<rect x="0.5" y="0.5" width="519" height="248" fill="none" stroke="#666" stroke-width="1"/>
</svg>
</div></body></html>
